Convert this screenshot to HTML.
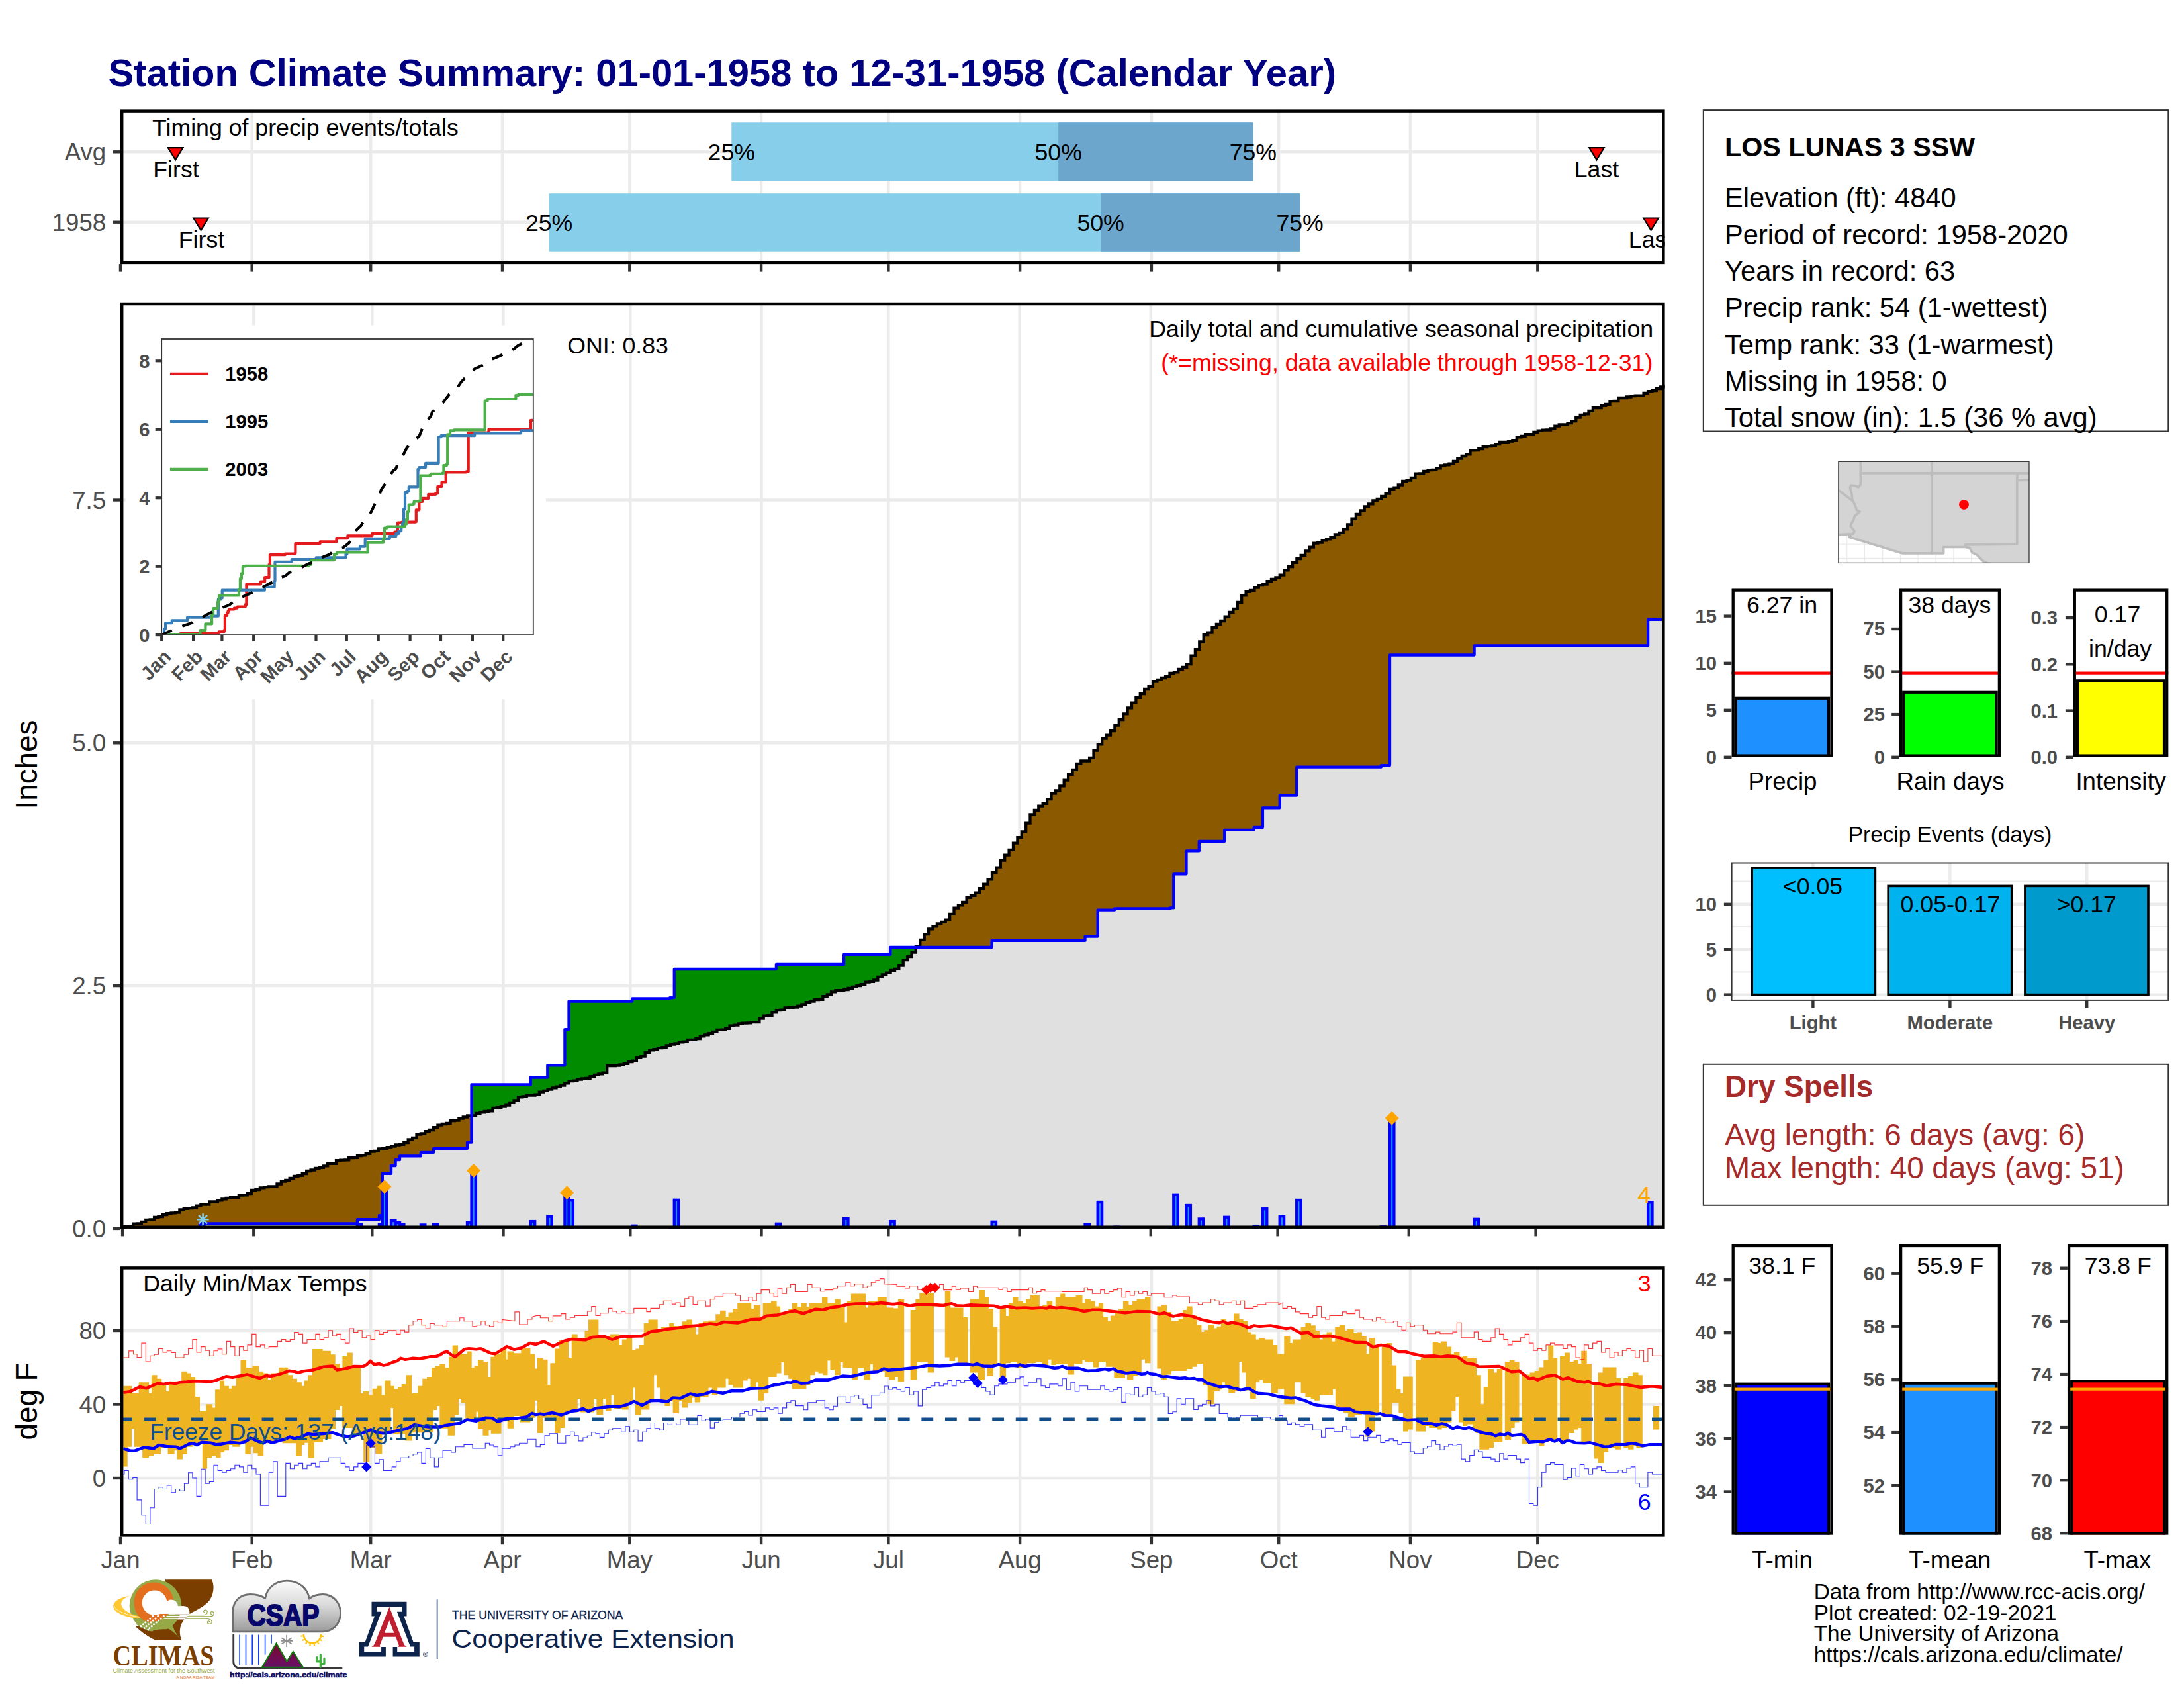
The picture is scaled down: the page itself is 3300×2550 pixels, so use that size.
<!DOCTYPE html>
<html lang="en"><head><meta charset="utf-8"><title>Station Climate Summary</title>
<style>html,body{margin:0;padding:0;background:#fff}svg{display:block}text{font-family:"Liberation Sans",Arial,Helvetica,sans-serif}</style></head><body>
<svg width="3300" height="2550" viewBox="0 0 3300 2550">
<rect width="3300" height="2550" fill="#FFFFFF"/>
<text x="163.6" y="130" font-size="57.9" font-weight="bold" fill="#000080">Station Climate Summary: 01-01-1958 to 12-31-1958 (Calendar Year)</text>
<g id="toppanel">
<clipPath id="tc"><rect x="182" y="165.4" width="2333.6" height="233.7"/></clipPath>
<line x1="182" y1="229.3" x2="2515.6" y2="229.3" stroke="#EBEBEB" stroke-width="4.4"/>
<line x1="182" y1="335.7" x2="2515.6" y2="335.7" stroke="#EBEBEB" stroke-width="4.4"/>
<line x1="380.7" y1="165.4" x2="380.7" y2="399.1" stroke="#EBEBEB" stroke-width="4.4"/>
<line x1="560.2" y1="165.4" x2="560.2" y2="399.1" stroke="#EBEBEB" stroke-width="4.4"/>
<line x1="759" y1="165.4" x2="759" y2="399.1" stroke="#EBEBEB" stroke-width="4.4"/>
<line x1="951.3" y1="165.4" x2="951.3" y2="399.1" stroke="#EBEBEB" stroke-width="4.4"/>
<line x1="1150.1" y1="165.4" x2="1150.1" y2="399.1" stroke="#EBEBEB" stroke-width="4.4"/>
<line x1="1342.4" y1="165.4" x2="1342.4" y2="399.1" stroke="#EBEBEB" stroke-width="4.4"/>
<line x1="1541.1" y1="165.4" x2="1541.1" y2="399.1" stroke="#EBEBEB" stroke-width="4.4"/>
<line x1="1739.9" y1="165.4" x2="1739.9" y2="399.1" stroke="#EBEBEB" stroke-width="4.4"/>
<line x1="1932.2" y1="165.4" x2="1932.2" y2="399.1" stroke="#EBEBEB" stroke-width="4.4"/>
<line x1="2130.9" y1="165.4" x2="2130.9" y2="399.1" stroke="#EBEBEB" stroke-width="4.4"/>
<line x1="2323.3" y1="165.4" x2="2323.3" y2="399.1" stroke="#EBEBEB" stroke-width="4.4"/>
<rect x="1105.3" y="185.3" width="788.1" height="88" fill="#87CEEB"/>
<rect x="1599.2" y="185.3" width="294.2" height="88" fill="#6CA6CD"/>
<rect x="829.6" y="292.2" width="1134.5" height="87.5" fill="#87CEEB"/>
<rect x="1663.1" y="292.2" width="301" height="87.5" fill="#6CA6CD"/>
<g clip-path="url(#tc)">
<text x="1105.3" y="242.2" font-size="35.7" text-anchor="middle">25%</text>
<text x="1599.2" y="242.2" font-size="35.7" text-anchor="middle">50%</text>
<text x="1893.4" y="242.2" font-size="35.7" text-anchor="middle">75%</text>
<text x="829.6" y="348.6" font-size="35.7" text-anchor="middle">25%</text>
<text x="1663.1" y="348.6" font-size="35.7" text-anchor="middle">50%</text>
<text x="1964.1" y="348.6" font-size="35.7" text-anchor="middle">75%</text>
<polygon points="253.9,223.1 276.3,223.1 265.1,241.4" fill="#FF0000" stroke="#000" stroke-width="2.2" stroke-linejoin="miter"/>
<text x="266" y="267.7" font-size="35.7" text-anchor="middle">First</text>
<polygon points="2401.3,223.1 2423.7,223.1 2412.5,241.4" fill="#FF0000" stroke="#000" stroke-width="2.2" stroke-linejoin="miter"/>
<text x="2412.5" y="267.7" font-size="35.7" text-anchor="middle">Last</text>
<polygon points="292.4,329.5 314.8,329.5 303.6,347.8" fill="#FF0000" stroke="#000" stroke-width="2.2" stroke-linejoin="miter"/>
<text x="304.5" y="374.1" font-size="35.7" text-anchor="middle">First</text>
<polygon points="2483.4,329.5 2505.8,329.5 2494.6,347.8" fill="#FF0000" stroke="#000" stroke-width="2.2" stroke-linejoin="miter"/>
<text x="2494.6" y="374.1" font-size="35.7" text-anchor="middle">Last</text>
<text x="230" y="205.2" font-size="35.7">Timing of precip events/totals</text>
</g>
</g>
<line x1="170.5" y1="229.3" x2="182" y2="229.3" stroke="#333333" stroke-width="4.4"/>
<text x="160.2" y="242.4" font-size="36.67" text-anchor="end" fill="#4D4D4D">Avg</text>
<line x1="170.5" y1="335.7" x2="182" y2="335.7" stroke="#333333" stroke-width="4.4"/>
<text x="160.2" y="348.8" font-size="36.67" text-anchor="end" fill="#4D4D4D">1958</text>
<line x1="182" y1="399.1" x2="182" y2="410.6" stroke="#333333" stroke-width="4.4"/>
<line x1="380.7" y1="399.1" x2="380.7" y2="410.6" stroke="#333333" stroke-width="4.4"/>
<line x1="560.2" y1="399.1" x2="560.2" y2="410.6" stroke="#333333" stroke-width="4.4"/>
<line x1="759" y1="399.1" x2="759" y2="410.6" stroke="#333333" stroke-width="4.4"/>
<line x1="951.3" y1="399.1" x2="951.3" y2="410.6" stroke="#333333" stroke-width="4.4"/>
<line x1="1150.1" y1="399.1" x2="1150.1" y2="410.6" stroke="#333333" stroke-width="4.4"/>
<line x1="1342.4" y1="399.1" x2="1342.4" y2="410.6" stroke="#333333" stroke-width="4.4"/>
<line x1="1541.1" y1="399.1" x2="1541.1" y2="410.6" stroke="#333333" stroke-width="4.4"/>
<line x1="1739.9" y1="399.1" x2="1739.9" y2="410.6" stroke="#333333" stroke-width="4.4"/>
<line x1="1932.2" y1="399.1" x2="1932.2" y2="410.6" stroke="#333333" stroke-width="4.4"/>
<line x1="2130.9" y1="399.1" x2="2130.9" y2="410.6" stroke="#333333" stroke-width="4.4"/>
<line x1="2323.3" y1="399.1" x2="2323.3" y2="410.6" stroke="#333333" stroke-width="4.4"/>
<rect x="184.2" y="167.6" width="2329.2" height="229.3" fill="none" stroke="#000" stroke-width="4.45"/>
<g id="mainpanel">
<line x1="182" y1="1489.1" x2="2515.6" y2="1489.1" stroke="#EBEBEB" stroke-width="4.4"/>
<line x1="182" y1="1122.3" x2="2515.6" y2="1122.3" stroke="#EBEBEB" stroke-width="4.4"/>
<line x1="182" y1="755.5" x2="2515.6" y2="755.5" stroke="#EBEBEB" stroke-width="4.4"/>
<line x1="383.3" y1="456.8" x2="383.3" y2="1855.9" stroke="#EBEBEB" stroke-width="4.4"/>
<line x1="562.3" y1="456.8" x2="562.3" y2="1855.9" stroke="#EBEBEB" stroke-width="4.4"/>
<line x1="760.5" y1="456.8" x2="760.5" y2="1855.9" stroke="#EBEBEB" stroke-width="4.4"/>
<line x1="952.3" y1="456.8" x2="952.3" y2="1855.9" stroke="#EBEBEB" stroke-width="4.4"/>
<line x1="1150.5" y1="456.8" x2="1150.5" y2="1855.9" stroke="#EBEBEB" stroke-width="4.4"/>
<line x1="1342.4" y1="456.8" x2="1342.4" y2="1855.9" stroke="#EBEBEB" stroke-width="4.4"/>
<line x1="1540.6" y1="456.8" x2="1540.6" y2="1855.9" stroke="#EBEBEB" stroke-width="4.4"/>
<line x1="1738.8" y1="456.8" x2="1738.8" y2="1855.9" stroke="#EBEBEB" stroke-width="4.4"/>
<line x1="1930.6" y1="456.8" x2="1930.6" y2="1855.9" stroke="#EBEBEB" stroke-width="4.4"/>
<line x1="2128.8" y1="456.8" x2="2128.8" y2="1855.9" stroke="#EBEBEB" stroke-width="4.4"/>
<line x1="2320.6" y1="456.8" x2="2320.6" y2="1855.9" stroke="#EBEBEB" stroke-width="4.4"/>
<clipPath id="mpc"><rect x="182" y="456.8" width="2333.6" height="1399.1"/></clipPath>
<g clip-path="url(#mpc)">
<clipPath id="ub"><polygon points="181.9,1855.3 188.3,1855.3 188.3,1852.9 194.7,1852.9 194.7,1852.5 201.1,1852.5 201.1,1848.7 207.5,1848.7 207.5,1848.3 213.9,1848.3 213.9,1845.8 220.3,1845.8 220.3,1842.8 226.7,1842.8 226.7,1842.3 233.1,1842.3 233.1,1838.9 239.4,1838.9 239.4,1838.2 245.8,1838.2 245.8,1835.1 252.2,1835.1 252.2,1833.2 258.6,1833.2 258.6,1832.3 265,1832.3 265,1831.7 271.4,1831.7 271.4,1827.5 277.8,1827.5 277.8,1825.8 284.2,1825.8 284.2,1825.2 290.6,1825.2 290.6,1824.3 297,1824.3 297,1821.6 303.4,1821.6 303.4,1819.6 309.8,1819.6 309.8,1819.6 316.2,1819.6 316.2,1815.5 322.6,1815.5 322.6,1815.5 329,1815.5 329,1813.3 335.4,1813.3 335.4,1811.4 341.7,1811.4 341.7,1809.8 348.1,1809.8 348.1,1808.9 354.5,1808.9 354.5,1808.9 360.9,1808.9 360.9,1805.5 367.3,1805.5 367.3,1805.3 373.7,1805.3 373.7,1803.2 380.1,1803.2 380.1,1797.9 386.5,1797.9 386.5,1797.1 392.9,1797.1 392.9,1794.3 399.3,1794.3 399.3,1793.2 405.7,1793.2 405.7,1792.4 412.1,1792.4 412.1,1792.4 418.5,1792.4 418.5,1788.5 424.9,1788.5 424.9,1784.5 431.3,1784.5 431.3,1782.8 437.7,1782.8 437.7,1779.8 444,1779.8 444,1776.8 450.4,1776.8 450.4,1775.8 456.8,1775.8 456.8,1773 463.2,1773 463.2,1769 469.6,1769 469.6,1767.5 476,1767.5 476,1764.9 482.4,1764.9 482.4,1763.9 488.8,1763.9 488.8,1761.3 495.2,1761.3 495.2,1757.8 501.6,1757.8 501.6,1757.8 508,1757.8 508,1753.1 514.4,1753.1 514.4,1752.7 520.8,1752.7 520.8,1752.4 527.2,1752.4 527.2,1749.1 533.6,1749.1 533.6,1748.8 540,1748.8 540,1746 546.3,1746 546.3,1745.3 552.7,1745.3 552.7,1742.8 559.1,1742.8 559.1,1739.5 565.5,1739.5 565.5,1738.9 571.9,1738.9 571.9,1735.5 578.3,1735.5 578.3,1735.1 584.7,1735.1 584.7,1733.2 591.1,1733.2 591.1,1731.5 597.5,1731.5 597.5,1729.5 603.9,1729.5 603.9,1728.9 610.3,1728.9 610.3,1726.1 616.7,1726.1 616.7,1721.4 623.1,1721.4 623.1,1718.8 629.5,1718.8 629.5,1713.7 635.9,1713.7 635.9,1712.5 642.2,1712.5 642.2,1709.1 648.6,1709.1 648.6,1707 655,1707 655,1703.2 661.4,1703.2 661.4,1699.6 667.8,1699.6 667.8,1698 674.2,1698 674.2,1697 680.6,1697 680.6,1693 687,1693 687,1692.5 693.4,1692.5 693.4,1689.6 699.8,1689.6 699.8,1687.5 706.2,1687.5 706.2,1685.4 712.6,1685.4 712.6,1685.4 719,1685.4 719,1681.8 725.4,1681.8 725.4,1680.3 731.8,1680.3 731.8,1678.8 738.2,1678.8 738.2,1678.4 744.5,1678.4 744.5,1673.9 750.9,1673.9 750.9,1673.2 757.3,1673.2 757.3,1671.6 763.7,1671.6 763.7,1669.7 770.1,1669.7 770.1,1665.9 776.5,1665.9 776.5,1662.5 782.9,1662.5 782.9,1657.3 789.3,1657.3 789.3,1656.3 795.7,1656.3 795.7,1654.6 802.1,1654.6 802.1,1654.6 808.5,1654.6 808.5,1653.6 814.9,1653.6 814.9,1649.6 821.3,1649.6 821.3,1647.8 827.7,1647.8 827.7,1645.6 834.1,1645.6 834.1,1643.3 840.5,1643.3 840.5,1641.7 846.8,1641.7 846.8,1639.7 853.2,1639.7 853.2,1636.3 859.6,1636.3 859.6,1633.2 866,1633.2 866,1632.7 872.4,1632.7 872.4,1630.7 878.8,1630.7 878.8,1629.5 885.2,1629.5 885.2,1628.9 891.6,1628.9 891.6,1626.2 898,1626.2 898,1623.8 904.4,1623.8 904.4,1622.3 910.8,1622.3 910.8,1620.6 917.2,1620.6 917.2,1610 923.6,1610 923.6,1610 930,1610 930,1609.6 936.4,1609.6 936.4,1608.5 942.8,1608.5 942.8,1606.9 949.1,1606.9 949.1,1604.2 955.5,1604.2 955.5,1602.6 961.9,1602.6 961.9,1597.8 968.3,1597.8 968.3,1595.6 974.7,1595.6 974.7,1589.8 981.1,1589.8 981.1,1586.3 987.5,1586.3 987.5,1585.1 993.9,1585.1 993.9,1583.2 1000.3,1583.2 1000.3,1582.1 1006.7,1582.1 1006.7,1579.4 1013.1,1579.4 1013.1,1577.5 1019.5,1577.5 1019.5,1576.3 1025.9,1576.3 1025.9,1574.4 1032.3,1574.4 1032.3,1573.6 1038.7,1573.6 1038.7,1570.8 1045.1,1570.8 1045.1,1570.8 1051.4,1570.8 1051.4,1569.2 1057.8,1569.2 1057.8,1565.3 1064.2,1565.3 1064.2,1563.3 1070.6,1563.3 1070.6,1561.2 1077,1561.2 1077,1558.9 1083.4,1558.9 1083.4,1555.8 1089.8,1555.8 1089.8,1555.7 1096.2,1555.7 1096.2,1553.8 1102.6,1553.8 1102.6,1549.7 1109,1549.7 1109,1548.7 1115.4,1548.7 1115.4,1546.5 1121.8,1546.5 1121.8,1545.6 1128.2,1545.6 1128.2,1545.4 1134.6,1545.4 1134.6,1544.1 1141,1544.1 1141,1544.1 1147.4,1544.1 1147.4,1538.6 1153.7,1538.6 1153.7,1534.7 1160.1,1534.7 1160.1,1534.2 1166.5,1534.2 1166.5,1529.3 1172.9,1529.3 1172.9,1526.2 1179.3,1526.2 1179.3,1525.7 1185.7,1525.7 1185.7,1522.3 1192.1,1522.3 1192.1,1522.1 1198.5,1522.1 1198.5,1521.7 1204.9,1521.7 1204.9,1519.6 1211.3,1519.6 1211.3,1517.3 1217.7,1517.3 1217.7,1514.1 1224.1,1514.1 1224.1,1512.6 1230.5,1512.6 1230.5,1510.2 1236.9,1510.2 1236.9,1509.8 1243.3,1509.8 1243.3,1505.2 1249.7,1505.2 1249.7,1502.3 1256,1502.3 1256,1498.3 1262.4,1498.3 1262.4,1496.2 1268.8,1496.2 1268.8,1496.2 1275.2,1496.2 1275.2,1495.1 1281.6,1495.1 1281.6,1492.9 1288,1492.9 1288,1490.9 1294.4,1490.9 1294.4,1489.2 1300.8,1489.2 1300.8,1487.1 1307.2,1487.1 1307.2,1483.7 1313.6,1483.7 1313.6,1482.8 1320,1482.8 1320,1480.5 1326.4,1480.5 1326.4,1475.9 1332.8,1475.9 1332.8,1472.4 1339.2,1472.4 1339.2,1469.6 1345.6,1469.6 1345.6,1466 1352,1466 1352,1463.8 1358.3,1463.8 1358.3,1458.5 1364.7,1458.5 1364.7,1450.2 1371.1,1450.2 1371.1,1445.1 1377.5,1445.1 1377.5,1438.6 1383.9,1438.6 1383.9,1430.2 1390.3,1430.2 1390.3,1419.9 1396.7,1419.9 1396.7,1411.1 1403.1,1411.1 1403.1,1403.4 1409.5,1403.4 1409.5,1399.4 1415.9,1399.4 1415.9,1395.4 1422.3,1395.4 1422.3,1392.8 1428.7,1392.8 1428.7,1389.6 1435.1,1389.6 1435.1,1380.9 1441.5,1380.9 1441.5,1371.6 1447.9,1371.6 1447.9,1367.3 1454.2,1367.3 1454.2,1362.9 1460.6,1362.9 1460.6,1355.8 1467,1355.8 1467,1352.8 1473.4,1352.8 1473.4,1348.7 1479.8,1348.7 1479.8,1342.1 1486.2,1342.1 1486.2,1335.6 1492.6,1335.6 1492.6,1328.3 1499,1328.3 1499,1318.1 1505.4,1318.1 1505.4,1310.6 1511.8,1310.6 1511.8,1299.7 1518.2,1299.7 1518.2,1291.7 1524.6,1291.7 1524.6,1283.8 1531,1283.8 1531,1273.6 1537.4,1273.6 1537.4,1265.2 1543.8,1265.2 1543.8,1256.4 1550.2,1256.4 1550.2,1243.7 1556.5,1243.7 1556.5,1230.4 1562.9,1230.4 1562.9,1223.9 1569.3,1223.9 1569.3,1217.7 1575.7,1217.7 1575.7,1213.8 1582.1,1213.8 1582.1,1207.1 1588.5,1207.1 1588.5,1198.7 1594.9,1198.7 1594.9,1194.5 1601.3,1194.5 1601.3,1187.3 1607.7,1187.3 1607.7,1178.6 1614.1,1178.6 1614.1,1169.9 1620.5,1169.9 1620.5,1162.8 1626.9,1162.8 1626.9,1153.8 1633.3,1153.8 1633.3,1149.5 1639.7,1149.5 1639.7,1149.5 1646.1,1149.5 1646.1,1144.8 1652.5,1144.8 1652.5,1133.7 1658.8,1133.7 1658.8,1124.3 1665.2,1124.3 1665.2,1115.5 1671.6,1115.5 1671.6,1110.6 1678,1110.6 1678,1104 1684.4,1104 1684.4,1095.7 1690.8,1095.7 1690.8,1087.2 1697.2,1087.2 1697.2,1078.4 1703.6,1078.4 1703.6,1069.4 1710,1069.4 1710,1061.7 1716.4,1061.7 1716.4,1053.9 1722.8,1053.9 1722.8,1048.2 1729.2,1048.2 1729.2,1041 1735.6,1041 1735.6,1037.2 1742,1037.2 1742,1029.6 1748.4,1029.6 1748.4,1026.8 1754.8,1026.8 1754.8,1024 1761.1,1024 1761.1,1021.8 1767.5,1021.8 1767.5,1017 1773.9,1017 1773.9,1015.4 1780.3,1015.4 1780.3,1010.9 1786.7,1010.9 1786.7,1007.8 1793.1,1007.8 1793.1,1003.2 1799.5,1003.2 1799.5,990.7 1805.9,990.7 1805.9,981.2 1812.3,981.2 1812.3,969.5 1818.7,969.5 1818.7,959 1825.1,959 1825.1,955.7 1831.5,955.7 1831.5,947.9 1837.9,947.9 1837.9,943 1844.3,943 1844.3,938 1850.7,938 1850.7,931.6 1857.1,931.6 1857.1,925 1863.4,925 1863.4,919.8 1869.8,919.8 1869.8,909.8 1876.2,909.8 1876.2,899.4 1882.6,899.4 1882.6,893.8 1889,893.8 1889,891.9 1895.4,891.9 1895.4,887.5 1901.8,887.5 1901.8,884.2 1908.2,884.2 1908.2,882.5 1914.6,882.5 1914.6,878.2 1921,878.2 1921,875 1927.4,875 1927.4,872.3 1933.8,872.3 1933.8,868.7 1940.2,868.7 1940.2,861.4 1946.6,861.4 1946.6,856.1 1953,856.1 1953,849.9 1959.4,849.9 1959.4,844.1 1965.7,844.1 1965.7,838.9 1972.1,838.9 1972.1,832.3 1978.5,832.3 1978.5,826.7 1984.9,826.7 1984.9,820.7 1991.3,820.7 1991.3,819.6 1997.7,819.6 1997.7,816.3 2004.1,816.3 2004.1,814.3 2010.5,814.3 2010.5,812 2016.9,812 2016.9,807.3 2023.3,807.3 2023.3,804.9 2029.7,804.9 2029.7,799.4 2036.1,799.4 2036.1,792.5 2042.5,792.5 2042.5,783.6 2048.9,783.6 2048.9,776.9 2055.3,776.9 2055.3,771.3 2061.7,771.3 2061.7,765.4 2068,765.4 2068,761.4 2074.4,761.4 2074.4,756.4 2080.8,756.4 2080.8,753.9 2087.2,753.9 2087.2,749.8 2093.6,749.8 2093.6,745.6 2100,745.6 2100,738.8 2106.4,738.8 2106.4,736.6 2112.8,736.6 2112.8,732.5 2119.2,732.5 2119.2,727 2125.6,727 2125.6,725.5 2132,725.5 2132,721.9 2138.4,721.9 2138.4,715.6 2144.8,715.6 2144.8,715.5 2151.2,715.5 2151.2,711.8 2157.6,711.8 2157.6,710.2 2164,710.2 2164,709.8 2170.3,709.8 2170.3,707.4 2176.7,707.4 2176.7,703.3 2183.1,703.3 2183.1,702.3 2189.5,702.3 2189.5,700.6 2195.9,700.6 2195.9,696.9 2202.3,696.9 2202.3,692.5 2208.7,692.5 2208.7,689 2215.1,689 2215.1,686.3 2221.5,686.3 2221.5,680.3 2227.9,680.3 2227.9,680.2 2234.3,680.2 2234.3,678.1 2240.7,678.1 2240.7,675 2247.1,675 2247.1,674.2 2253.5,674.2 2253.5,673.3 2259.9,673.3 2259.9,671.2 2266.2,671.2 2266.2,668 2272.6,668 2272.6,668 2279,668 2279,666.5 2285.4,666.5 2285.4,665.1 2291.8,665.1 2291.8,660.3 2298.2,660.3 2298.2,658.9 2304.6,658.9 2304.6,656.2 2311,656.2 2311,656.2 2317.4,656.2 2317.4,653 2323.8,653 2323.8,650.7 2330.2,650.7 2330.2,649.7 2336.6,649.7 2336.6,649.5 2343,649.5 2343,647.3 2349.4,647.3 2349.4,643.7 2355.8,643.7 2355.8,641.5 2362.2,641.5 2362.2,641.5 2368.5,641.5 2368.5,639.2 2374.9,639.2 2374.9,636.1 2381.3,636.1 2381.3,630.6 2387.7,630.6 2387.7,626.9 2394.1,626.9 2394.1,625.4 2400.5,625.4 2400.5,620.9 2406.9,620.9 2406.9,616.2 2413.3,616.2 2413.3,616.2 2419.7,616.2 2419.7,612.8 2426.1,612.8 2426.1,610.9 2432.5,610.9 2432.5,606.1 2438.9,606.1 2438.9,606 2445.3,606 2445.3,601 2451.7,601 2451.7,601 2458.1,601 2458.1,599.5 2464.5,599.5 2464.5,598.1 2470.8,598.1 2470.8,597.7 2477.2,597.7 2477.2,597.7 2483.6,597.7 2483.6,593.8 2490,593.8 2490,591.2 2496.4,591.2 2496.4,590.2 2502.8,590.2 2502.8,587.1 2509.2,587.1 2509.2,584.5 2515.6,584.5 2515.6,583.3 2513,583.3 2513,1855.9 182,1855.9"/></clipPath>
<polygon points="182,1855.9 302,1855.9 302,1848.5 539.9,1848.5 539.9,1842.2 572.9,1842.2 572.9,1836.1 577.8,1836.1 577.8,1772.9 591,1772.9 591,1761 597.6,1761 597.6,1752.2 604,1752.2 604,1746.4 635.9,1746.4 635.9,1740.9 655.1,1740.9 655.1,1735 706,1735 706,1725.7 712.5,1725.7 712.5,1638.3 801.8,1638.3 801.8,1627.5 827.3,1627.5 827.3,1609.3 853.4,1609.3 853.4,1555.2 859.5,1555.2 859.5,1512.6 955.1,1512.6 955.1,1508.5 1012.2,1508.5 1012.2,1507.1 1018.8,1507.1 1018.8,1464 1172.9,1464 1172.9,1456.9 1275.1,1456.9 1275.1,1441.8 1345.3,1441.8 1345.3,1431 1498.6,1431 1498.6,1420.9 1639.5,1420.9 1639.5,1414.6 1658.7,1414.6 1658.7,1374.7 1684,1374.7 1684,1372.5 1767.8,1372.5 1767.8,1371.4 1773.3,1371.4 1773.3,1320.3 1792.5,1320.3 1792.5,1285.4 1811.8,1285.4 1811.8,1270.9 1850.2,1270.9 1850.2,1253.8 1894.7,1253.8 1894.7,1250 1907.9,1250 1907.9,1220.3 1933.7,1220.3 1933.7,1201.6 1959.2,1201.6 1959.2,1158.7 2086.8,1158.7 2086.8,1156.1 2100,1156.1 2100,989.5 2227.6,989.5 2227.6,975.4 2490.1,975.4 2490.1,935.8 2511,935.8 2513.5,935.8 2513.5,1855.9 182,1855.9" fill="#008B00"/>
<polygon points="181.9,1855.3 188.3,1855.3 188.3,1852.9 194.7,1852.9 194.7,1852.5 201.1,1852.5 201.1,1848.7 207.5,1848.7 207.5,1848.3 213.9,1848.3 213.9,1845.8 220.3,1845.8 220.3,1842.8 226.7,1842.8 226.7,1842.3 233.1,1842.3 233.1,1838.9 239.4,1838.9 239.4,1838.2 245.8,1838.2 245.8,1835.1 252.2,1835.1 252.2,1833.2 258.6,1833.2 258.6,1832.3 265,1832.3 265,1831.7 271.4,1831.7 271.4,1827.5 277.8,1827.5 277.8,1825.8 284.2,1825.8 284.2,1825.2 290.6,1825.2 290.6,1824.3 297,1824.3 297,1821.6 303.4,1821.6 303.4,1819.6 309.8,1819.6 309.8,1819.6 316.2,1819.6 316.2,1815.5 322.6,1815.5 322.6,1815.5 329,1815.5 329,1813.3 335.4,1813.3 335.4,1811.4 341.7,1811.4 341.7,1809.8 348.1,1809.8 348.1,1808.9 354.5,1808.9 354.5,1808.9 360.9,1808.9 360.9,1805.5 367.3,1805.5 367.3,1805.3 373.7,1805.3 373.7,1803.2 380.1,1803.2 380.1,1797.9 386.5,1797.9 386.5,1797.1 392.9,1797.1 392.9,1794.3 399.3,1794.3 399.3,1793.2 405.7,1793.2 405.7,1792.4 412.1,1792.4 412.1,1792.4 418.5,1792.4 418.5,1788.5 424.9,1788.5 424.9,1784.5 431.3,1784.5 431.3,1782.8 437.7,1782.8 437.7,1779.8 444,1779.8 444,1776.8 450.4,1776.8 450.4,1775.8 456.8,1775.8 456.8,1773 463.2,1773 463.2,1769 469.6,1769 469.6,1767.5 476,1767.5 476,1764.9 482.4,1764.9 482.4,1763.9 488.8,1763.9 488.8,1761.3 495.2,1761.3 495.2,1757.8 501.6,1757.8 501.6,1757.8 508,1757.8 508,1753.1 514.4,1753.1 514.4,1752.7 520.8,1752.7 520.8,1752.4 527.2,1752.4 527.2,1749.1 533.6,1749.1 533.6,1748.8 540,1748.8 540,1746 546.3,1746 546.3,1745.3 552.7,1745.3 552.7,1742.8 559.1,1742.8 559.1,1739.5 565.5,1739.5 565.5,1738.9 571.9,1738.9 571.9,1735.5 578.3,1735.5 578.3,1735.1 584.7,1735.1 584.7,1733.2 591.1,1733.2 591.1,1731.5 597.5,1731.5 597.5,1729.5 603.9,1729.5 603.9,1728.9 610.3,1728.9 610.3,1726.1 616.7,1726.1 616.7,1721.4 623.1,1721.4 623.1,1718.8 629.5,1718.8 629.5,1713.7 635.9,1713.7 635.9,1712.5 642.2,1712.5 642.2,1709.1 648.6,1709.1 648.6,1707 655,1707 655,1703.2 661.4,1703.2 661.4,1699.6 667.8,1699.6 667.8,1698 674.2,1698 674.2,1697 680.6,1697 680.6,1693 687,1693 687,1692.5 693.4,1692.5 693.4,1689.6 699.8,1689.6 699.8,1687.5 706.2,1687.5 706.2,1685.4 712.6,1685.4 712.6,1685.4 719,1685.4 719,1681.8 725.4,1681.8 725.4,1680.3 731.8,1680.3 731.8,1678.8 738.2,1678.8 738.2,1678.4 744.5,1678.4 744.5,1673.9 750.9,1673.9 750.9,1673.2 757.3,1673.2 757.3,1671.6 763.7,1671.6 763.7,1669.7 770.1,1669.7 770.1,1665.9 776.5,1665.9 776.5,1662.5 782.9,1662.5 782.9,1657.3 789.3,1657.3 789.3,1656.3 795.7,1656.3 795.7,1654.6 802.1,1654.6 802.1,1654.6 808.5,1654.6 808.5,1653.6 814.9,1653.6 814.9,1649.6 821.3,1649.6 821.3,1647.8 827.7,1647.8 827.7,1645.6 834.1,1645.6 834.1,1643.3 840.5,1643.3 840.5,1641.7 846.8,1641.7 846.8,1639.7 853.2,1639.7 853.2,1636.3 859.6,1636.3 859.6,1633.2 866,1633.2 866,1632.7 872.4,1632.7 872.4,1630.7 878.8,1630.7 878.8,1629.5 885.2,1629.5 885.2,1628.9 891.6,1628.9 891.6,1626.2 898,1626.2 898,1623.8 904.4,1623.8 904.4,1622.3 910.8,1622.3 910.8,1620.6 917.2,1620.6 917.2,1610 923.6,1610 923.6,1610 930,1610 930,1609.6 936.4,1609.6 936.4,1608.5 942.8,1608.5 942.8,1606.9 949.1,1606.9 949.1,1604.2 955.5,1604.2 955.5,1602.6 961.9,1602.6 961.9,1597.8 968.3,1597.8 968.3,1595.6 974.7,1595.6 974.7,1589.8 981.1,1589.8 981.1,1586.3 987.5,1586.3 987.5,1585.1 993.9,1585.1 993.9,1583.2 1000.3,1583.2 1000.3,1582.1 1006.7,1582.1 1006.7,1579.4 1013.1,1579.4 1013.1,1577.5 1019.5,1577.5 1019.5,1576.3 1025.9,1576.3 1025.9,1574.4 1032.3,1574.4 1032.3,1573.6 1038.7,1573.6 1038.7,1570.8 1045.1,1570.8 1045.1,1570.8 1051.4,1570.8 1051.4,1569.2 1057.8,1569.2 1057.8,1565.3 1064.2,1565.3 1064.2,1563.3 1070.6,1563.3 1070.6,1561.2 1077,1561.2 1077,1558.9 1083.4,1558.9 1083.4,1555.8 1089.8,1555.8 1089.8,1555.7 1096.2,1555.7 1096.2,1553.8 1102.6,1553.8 1102.6,1549.7 1109,1549.7 1109,1548.7 1115.4,1548.7 1115.4,1546.5 1121.8,1546.5 1121.8,1545.6 1128.2,1545.6 1128.2,1545.4 1134.6,1545.4 1134.6,1544.1 1141,1544.1 1141,1544.1 1147.4,1544.1 1147.4,1538.6 1153.7,1538.6 1153.7,1534.7 1160.1,1534.7 1160.1,1534.2 1166.5,1534.2 1166.5,1529.3 1172.9,1529.3 1172.9,1526.2 1179.3,1526.2 1179.3,1525.7 1185.7,1525.7 1185.7,1522.3 1192.1,1522.3 1192.1,1522.1 1198.5,1522.1 1198.5,1521.7 1204.9,1521.7 1204.9,1519.6 1211.3,1519.6 1211.3,1517.3 1217.7,1517.3 1217.7,1514.1 1224.1,1514.1 1224.1,1512.6 1230.5,1512.6 1230.5,1510.2 1236.9,1510.2 1236.9,1509.8 1243.3,1509.8 1243.3,1505.2 1249.7,1505.2 1249.7,1502.3 1256,1502.3 1256,1498.3 1262.4,1498.3 1262.4,1496.2 1268.8,1496.2 1268.8,1496.2 1275.2,1496.2 1275.2,1495.1 1281.6,1495.1 1281.6,1492.9 1288,1492.9 1288,1490.9 1294.4,1490.9 1294.4,1489.2 1300.8,1489.2 1300.8,1487.1 1307.2,1487.1 1307.2,1483.7 1313.6,1483.7 1313.6,1482.8 1320,1482.8 1320,1480.5 1326.4,1480.5 1326.4,1475.9 1332.8,1475.9 1332.8,1472.4 1339.2,1472.4 1339.2,1469.6 1345.6,1469.6 1345.6,1466 1352,1466 1352,1463.8 1358.3,1463.8 1358.3,1458.5 1364.7,1458.5 1364.7,1450.2 1371.1,1450.2 1371.1,1445.1 1377.5,1445.1 1377.5,1438.6 1383.9,1438.6 1383.9,1430.2 1390.3,1430.2 1390.3,1419.9 1396.7,1419.9 1396.7,1411.1 1403.1,1411.1 1403.1,1403.4 1409.5,1403.4 1409.5,1399.4 1415.9,1399.4 1415.9,1395.4 1422.3,1395.4 1422.3,1392.8 1428.7,1392.8 1428.7,1389.6 1435.1,1389.6 1435.1,1380.9 1441.5,1380.9 1441.5,1371.6 1447.9,1371.6 1447.9,1367.3 1454.2,1367.3 1454.2,1362.9 1460.6,1362.9 1460.6,1355.8 1467,1355.8 1467,1352.8 1473.4,1352.8 1473.4,1348.7 1479.8,1348.7 1479.8,1342.1 1486.2,1342.1 1486.2,1335.6 1492.6,1335.6 1492.6,1328.3 1499,1328.3 1499,1318.1 1505.4,1318.1 1505.4,1310.6 1511.8,1310.6 1511.8,1299.7 1518.2,1299.7 1518.2,1291.7 1524.6,1291.7 1524.6,1283.8 1531,1283.8 1531,1273.6 1537.4,1273.6 1537.4,1265.2 1543.8,1265.2 1543.8,1256.4 1550.2,1256.4 1550.2,1243.7 1556.5,1243.7 1556.5,1230.4 1562.9,1230.4 1562.9,1223.9 1569.3,1223.9 1569.3,1217.7 1575.7,1217.7 1575.7,1213.8 1582.1,1213.8 1582.1,1207.1 1588.5,1207.1 1588.5,1198.7 1594.9,1198.7 1594.9,1194.5 1601.3,1194.5 1601.3,1187.3 1607.7,1187.3 1607.7,1178.6 1614.1,1178.6 1614.1,1169.9 1620.5,1169.9 1620.5,1162.8 1626.9,1162.8 1626.9,1153.8 1633.3,1153.8 1633.3,1149.5 1639.7,1149.5 1639.7,1149.5 1646.1,1149.5 1646.1,1144.8 1652.5,1144.8 1652.5,1133.7 1658.8,1133.7 1658.8,1124.3 1665.2,1124.3 1665.2,1115.5 1671.6,1115.5 1671.6,1110.6 1678,1110.6 1678,1104 1684.4,1104 1684.4,1095.7 1690.8,1095.7 1690.8,1087.2 1697.2,1087.2 1697.2,1078.4 1703.6,1078.4 1703.6,1069.4 1710,1069.4 1710,1061.7 1716.4,1061.7 1716.4,1053.9 1722.8,1053.9 1722.8,1048.2 1729.2,1048.2 1729.2,1041 1735.6,1041 1735.6,1037.2 1742,1037.2 1742,1029.6 1748.4,1029.6 1748.4,1026.8 1754.8,1026.8 1754.8,1024 1761.1,1024 1761.1,1021.8 1767.5,1021.8 1767.5,1017 1773.9,1017 1773.9,1015.4 1780.3,1015.4 1780.3,1010.9 1786.7,1010.9 1786.7,1007.8 1793.1,1007.8 1793.1,1003.2 1799.5,1003.2 1799.5,990.7 1805.9,990.7 1805.9,981.2 1812.3,981.2 1812.3,969.5 1818.7,969.5 1818.7,959 1825.1,959 1825.1,955.7 1831.5,955.7 1831.5,947.9 1837.9,947.9 1837.9,943 1844.3,943 1844.3,938 1850.7,938 1850.7,931.6 1857.1,931.6 1857.1,925 1863.4,925 1863.4,919.8 1869.8,919.8 1869.8,909.8 1876.2,909.8 1876.2,899.4 1882.6,899.4 1882.6,893.8 1889,893.8 1889,891.9 1895.4,891.9 1895.4,887.5 1901.8,887.5 1901.8,884.2 1908.2,884.2 1908.2,882.5 1914.6,882.5 1914.6,878.2 1921,878.2 1921,875 1927.4,875 1927.4,872.3 1933.8,872.3 1933.8,868.7 1940.2,868.7 1940.2,861.4 1946.6,861.4 1946.6,856.1 1953,856.1 1953,849.9 1959.4,849.9 1959.4,844.1 1965.7,844.1 1965.7,838.9 1972.1,838.9 1972.1,832.3 1978.5,832.3 1978.5,826.7 1984.9,826.7 1984.9,820.7 1991.3,820.7 1991.3,819.6 1997.7,819.6 1997.7,816.3 2004.1,816.3 2004.1,814.3 2010.5,814.3 2010.5,812 2016.9,812 2016.9,807.3 2023.3,807.3 2023.3,804.9 2029.7,804.9 2029.7,799.4 2036.1,799.4 2036.1,792.5 2042.5,792.5 2042.5,783.6 2048.9,783.6 2048.9,776.9 2055.3,776.9 2055.3,771.3 2061.7,771.3 2061.7,765.4 2068,765.4 2068,761.4 2074.4,761.4 2074.4,756.4 2080.8,756.4 2080.8,753.9 2087.2,753.9 2087.2,749.8 2093.6,749.8 2093.6,745.6 2100,745.6 2100,738.8 2106.4,738.8 2106.4,736.6 2112.8,736.6 2112.8,732.5 2119.2,732.5 2119.2,727 2125.6,727 2125.6,725.5 2132,725.5 2132,721.9 2138.4,721.9 2138.4,715.6 2144.8,715.6 2144.8,715.5 2151.2,715.5 2151.2,711.8 2157.6,711.8 2157.6,710.2 2164,710.2 2164,709.8 2170.3,709.8 2170.3,707.4 2176.7,707.4 2176.7,703.3 2183.1,703.3 2183.1,702.3 2189.5,702.3 2189.5,700.6 2195.9,700.6 2195.9,696.9 2202.3,696.9 2202.3,692.5 2208.7,692.5 2208.7,689 2215.1,689 2215.1,686.3 2221.5,686.3 2221.5,680.3 2227.9,680.3 2227.9,680.2 2234.3,680.2 2234.3,678.1 2240.7,678.1 2240.7,675 2247.1,675 2247.1,674.2 2253.5,674.2 2253.5,673.3 2259.9,673.3 2259.9,671.2 2266.2,671.2 2266.2,668 2272.6,668 2272.6,668 2279,668 2279,666.5 2285.4,666.5 2285.4,665.1 2291.8,665.1 2291.8,660.3 2298.2,660.3 2298.2,658.9 2304.6,658.9 2304.6,656.2 2311,656.2 2311,656.2 2317.4,656.2 2317.4,653 2323.8,653 2323.8,650.7 2330.2,650.7 2330.2,649.7 2336.6,649.7 2336.6,649.5 2343,649.5 2343,647.3 2349.4,647.3 2349.4,643.7 2355.8,643.7 2355.8,641.5 2362.2,641.5 2362.2,641.5 2368.5,641.5 2368.5,639.2 2374.9,639.2 2374.9,636.1 2381.3,636.1 2381.3,630.6 2387.7,630.6 2387.7,626.9 2394.1,626.9 2394.1,625.4 2400.5,625.4 2400.5,620.9 2406.9,620.9 2406.9,616.2 2413.3,616.2 2413.3,616.2 2419.7,616.2 2419.7,612.8 2426.1,612.8 2426.1,610.9 2432.5,610.9 2432.5,606.1 2438.9,606.1 2438.9,606 2445.3,606 2445.3,601 2451.7,601 2451.7,601 2458.1,601 2458.1,599.5 2464.5,599.5 2464.5,598.1 2470.8,598.1 2470.8,597.7 2477.2,597.7 2477.2,597.7 2483.6,597.7 2483.6,593.8 2490,593.8 2490,591.2 2496.4,591.2 2496.4,590.2 2502.8,590.2 2502.8,587.1 2509.2,587.1 2509.2,584.5 2515.6,584.5 2515.6,583.3 2513,583.3 2513,1855.9 182,1855.9" fill="#8B5A00"/>
<polygon points="182,1855.9 302,1855.9 302,1848.5 539.9,1848.5 539.9,1842.2 572.9,1842.2 572.9,1836.1 577.8,1836.1 577.8,1772.9 591,1772.9 591,1761 597.6,1761 597.6,1752.2 604,1752.2 604,1746.4 635.9,1746.4 635.9,1740.9 655.1,1740.9 655.1,1735 706,1735 706,1725.7 712.5,1725.7 712.5,1638.3 801.8,1638.3 801.8,1627.5 827.3,1627.5 827.3,1609.3 853.4,1609.3 853.4,1555.2 859.5,1555.2 859.5,1512.6 955.1,1512.6 955.1,1508.5 1012.2,1508.5 1012.2,1507.1 1018.8,1507.1 1018.8,1464 1172.9,1464 1172.9,1456.9 1275.1,1456.9 1275.1,1441.8 1345.3,1441.8 1345.3,1431 1498.6,1431 1498.6,1420.9 1639.5,1420.9 1639.5,1414.6 1658.7,1414.6 1658.7,1374.7 1684,1374.7 1684,1372.5 1767.8,1372.5 1767.8,1371.4 1773.3,1371.4 1773.3,1320.3 1792.5,1320.3 1792.5,1285.4 1811.8,1285.4 1811.8,1270.9 1850.2,1270.9 1850.2,1253.8 1894.7,1253.8 1894.7,1250 1907.9,1250 1907.9,1220.3 1933.7,1220.3 1933.7,1201.6 1959.2,1201.6 1959.2,1158.7 2086.8,1158.7 2086.8,1156.1 2100,1156.1 2100,989.5 2227.6,989.5 2227.6,975.4 2490.1,975.4 2490.1,935.8 2511,935.8 2513.5,935.8 2513.5,1855.9 182,1855.9" fill="#E0E0E0" clip-path="url(#ub)"/>
<polyline points="181.9,1855.3 188.3,1855.3 188.3,1852.9 194.7,1852.9 194.7,1852.5 201.1,1852.5 201.1,1848.7 207.5,1848.7 207.5,1848.3 213.9,1848.3 213.9,1845.8 220.3,1845.8 220.3,1842.8 226.7,1842.8 226.7,1842.3 233.1,1842.3 233.1,1838.9 239.4,1838.9 239.4,1838.2 245.8,1838.2 245.8,1835.1 252.2,1835.1 252.2,1833.2 258.6,1833.2 258.6,1832.3 265,1832.3 265,1831.7 271.4,1831.7 271.4,1827.5 277.8,1827.5 277.8,1825.8 284.2,1825.8 284.2,1825.2 290.6,1825.2 290.6,1824.3 297,1824.3 297,1821.6 303.4,1821.6 303.4,1819.6 309.8,1819.6 309.8,1819.6 316.2,1819.6 316.2,1815.5 322.6,1815.5 322.6,1815.5 329,1815.5 329,1813.3 335.4,1813.3 335.4,1811.4 341.7,1811.4 341.7,1809.8 348.1,1809.8 348.1,1808.9 354.5,1808.9 354.5,1808.9 360.9,1808.9 360.9,1805.5 367.3,1805.5 367.3,1805.3 373.7,1805.3 373.7,1803.2 380.1,1803.2 380.1,1797.9 386.5,1797.9 386.5,1797.1 392.9,1797.1 392.9,1794.3 399.3,1794.3 399.3,1793.2 405.7,1793.2 405.7,1792.4 412.1,1792.4 412.1,1792.4 418.5,1792.4 418.5,1788.5 424.9,1788.5 424.9,1784.5 431.3,1784.5 431.3,1782.8 437.7,1782.8 437.7,1779.8 444,1779.8 444,1776.8 450.4,1776.8 450.4,1775.8 456.8,1775.8 456.8,1773 463.2,1773 463.2,1769 469.6,1769 469.6,1767.5 476,1767.5 476,1764.9 482.4,1764.9 482.4,1763.9 488.8,1763.9 488.8,1761.3 495.2,1761.3 495.2,1757.8 501.6,1757.8 501.6,1757.8 508,1757.8 508,1753.1 514.4,1753.1 514.4,1752.7 520.8,1752.7 520.8,1752.4 527.2,1752.4 527.2,1749.1 533.6,1749.1 533.6,1748.8 540,1748.8 540,1746 546.3,1746 546.3,1745.3 552.7,1745.3 552.7,1742.8 559.1,1742.8 559.1,1739.5 565.5,1739.5 565.5,1738.9 571.9,1738.9 571.9,1735.5 578.3,1735.5 578.3,1735.1 584.7,1735.1 584.7,1733.2 591.1,1733.2 591.1,1731.5 597.5,1731.5 597.5,1729.5 603.9,1729.5 603.9,1728.9 610.3,1728.9 610.3,1726.1 616.7,1726.1 616.7,1721.4 623.1,1721.4 623.1,1718.8 629.5,1718.8 629.5,1713.7 635.9,1713.7 635.9,1712.5 642.2,1712.5 642.2,1709.1 648.6,1709.1 648.6,1707 655,1707 655,1703.2 661.4,1703.2 661.4,1699.6 667.8,1699.6 667.8,1698 674.2,1698 674.2,1697 680.6,1697 680.6,1693 687,1693 687,1692.5 693.4,1692.5 693.4,1689.6 699.8,1689.6 699.8,1687.5 706.2,1687.5 706.2,1685.4 712.6,1685.4 712.6,1685.4 719,1685.4 719,1681.8 725.4,1681.8 725.4,1680.3 731.8,1680.3 731.8,1678.8 738.2,1678.8 738.2,1678.4 744.5,1678.4 744.5,1673.9 750.9,1673.9 750.9,1673.2 757.3,1673.2 757.3,1671.6 763.7,1671.6 763.7,1669.7 770.1,1669.7 770.1,1665.9 776.5,1665.9 776.5,1662.5 782.9,1662.5 782.9,1657.3 789.3,1657.3 789.3,1656.3 795.7,1656.3 795.7,1654.6 802.1,1654.6 802.1,1654.6 808.5,1654.6 808.5,1653.6 814.9,1653.6 814.9,1649.6 821.3,1649.6 821.3,1647.8 827.7,1647.8 827.7,1645.6 834.1,1645.6 834.1,1643.3 840.5,1643.3 840.5,1641.7 846.8,1641.7 846.8,1639.7 853.2,1639.7 853.2,1636.3 859.6,1636.3 859.6,1633.2 866,1633.2 866,1632.7 872.4,1632.7 872.4,1630.7 878.8,1630.7 878.8,1629.5 885.2,1629.5 885.2,1628.9 891.6,1628.9 891.6,1626.2 898,1626.2 898,1623.8 904.4,1623.8 904.4,1622.3 910.8,1622.3 910.8,1620.6 917.2,1620.6 917.2,1610 923.6,1610 923.6,1610 930,1610 930,1609.6 936.4,1609.6 936.4,1608.5 942.8,1608.5 942.8,1606.9 949.1,1606.9 949.1,1604.2 955.5,1604.2 955.5,1602.6 961.9,1602.6 961.9,1597.8 968.3,1597.8 968.3,1595.6 974.7,1595.6 974.7,1589.8 981.1,1589.8 981.1,1586.3 987.5,1586.3 987.5,1585.1 993.9,1585.1 993.9,1583.2 1000.3,1583.2 1000.3,1582.1 1006.7,1582.1 1006.7,1579.4 1013.1,1579.4 1013.1,1577.5 1019.5,1577.5 1019.5,1576.3 1025.9,1576.3 1025.9,1574.4 1032.3,1574.4 1032.3,1573.6 1038.7,1573.6 1038.7,1570.8 1045.1,1570.8 1045.1,1570.8 1051.4,1570.8 1051.4,1569.2 1057.8,1569.2 1057.8,1565.3 1064.2,1565.3 1064.2,1563.3 1070.6,1563.3 1070.6,1561.2 1077,1561.2 1077,1558.9 1083.4,1558.9 1083.4,1555.8 1089.8,1555.8 1089.8,1555.7 1096.2,1555.7 1096.2,1553.8 1102.6,1553.8 1102.6,1549.7 1109,1549.7 1109,1548.7 1115.4,1548.7 1115.4,1546.5 1121.8,1546.5 1121.8,1545.6 1128.2,1545.6 1128.2,1545.4 1134.6,1545.4 1134.6,1544.1 1141,1544.1 1141,1544.1 1147.4,1544.1 1147.4,1538.6 1153.7,1538.6 1153.7,1534.7 1160.1,1534.7 1160.1,1534.2 1166.5,1534.2 1166.5,1529.3 1172.9,1529.3 1172.9,1526.2 1179.3,1526.2 1179.3,1525.7 1185.7,1525.7 1185.7,1522.3 1192.1,1522.3 1192.1,1522.1 1198.5,1522.1 1198.5,1521.7 1204.9,1521.7 1204.9,1519.6 1211.3,1519.6 1211.3,1517.3 1217.7,1517.3 1217.7,1514.1 1224.1,1514.1 1224.1,1512.6 1230.5,1512.6 1230.5,1510.2 1236.9,1510.2 1236.9,1509.8 1243.3,1509.8 1243.3,1505.2 1249.7,1505.2 1249.7,1502.3 1256,1502.3 1256,1498.3 1262.4,1498.3 1262.4,1496.2 1268.8,1496.2 1268.8,1496.2 1275.2,1496.2 1275.2,1495.1 1281.6,1495.1 1281.6,1492.9 1288,1492.9 1288,1490.9 1294.4,1490.9 1294.4,1489.2 1300.8,1489.2 1300.8,1487.1 1307.2,1487.1 1307.2,1483.7 1313.6,1483.7 1313.6,1482.8 1320,1482.8 1320,1480.5 1326.4,1480.5 1326.4,1475.9 1332.8,1475.9 1332.8,1472.4 1339.2,1472.4 1339.2,1469.6 1345.6,1469.6 1345.6,1466 1352,1466 1352,1463.8 1358.3,1463.8 1358.3,1458.5 1364.7,1458.5 1364.7,1450.2 1371.1,1450.2 1371.1,1445.1 1377.5,1445.1 1377.5,1438.6 1383.9,1438.6 1383.9,1430.2 1390.3,1430.2 1390.3,1419.9 1396.7,1419.9 1396.7,1411.1 1403.1,1411.1 1403.1,1403.4 1409.5,1403.4 1409.5,1399.4 1415.9,1399.4 1415.9,1395.4 1422.3,1395.4 1422.3,1392.8 1428.7,1392.8 1428.7,1389.6 1435.1,1389.6 1435.1,1380.9 1441.5,1380.9 1441.5,1371.6 1447.9,1371.6 1447.9,1367.3 1454.2,1367.3 1454.2,1362.9 1460.6,1362.9 1460.6,1355.8 1467,1355.8 1467,1352.8 1473.4,1352.8 1473.4,1348.7 1479.8,1348.7 1479.8,1342.1 1486.2,1342.1 1486.2,1335.6 1492.6,1335.6 1492.6,1328.3 1499,1328.3 1499,1318.1 1505.4,1318.1 1505.4,1310.6 1511.8,1310.6 1511.8,1299.7 1518.2,1299.7 1518.2,1291.7 1524.6,1291.7 1524.6,1283.8 1531,1283.8 1531,1273.6 1537.4,1273.6 1537.4,1265.2 1543.8,1265.2 1543.8,1256.4 1550.2,1256.4 1550.2,1243.7 1556.5,1243.7 1556.5,1230.4 1562.9,1230.4 1562.9,1223.9 1569.3,1223.9 1569.3,1217.7 1575.7,1217.7 1575.7,1213.8 1582.1,1213.8 1582.1,1207.1 1588.5,1207.1 1588.5,1198.7 1594.9,1198.7 1594.9,1194.5 1601.3,1194.5 1601.3,1187.3 1607.7,1187.3 1607.7,1178.6 1614.1,1178.6 1614.1,1169.9 1620.5,1169.9 1620.5,1162.8 1626.9,1162.8 1626.9,1153.8 1633.3,1153.8 1633.3,1149.5 1639.7,1149.5 1639.7,1149.5 1646.1,1149.5 1646.1,1144.8 1652.5,1144.8 1652.5,1133.7 1658.8,1133.7 1658.8,1124.3 1665.2,1124.3 1665.2,1115.5 1671.6,1115.5 1671.6,1110.6 1678,1110.6 1678,1104 1684.4,1104 1684.4,1095.7 1690.8,1095.7 1690.8,1087.2 1697.2,1087.2 1697.2,1078.4 1703.6,1078.4 1703.6,1069.4 1710,1069.4 1710,1061.7 1716.4,1061.7 1716.4,1053.9 1722.8,1053.9 1722.8,1048.2 1729.2,1048.2 1729.2,1041 1735.6,1041 1735.6,1037.2 1742,1037.2 1742,1029.6 1748.4,1029.6 1748.4,1026.8 1754.8,1026.8 1754.8,1024 1761.1,1024 1761.1,1021.8 1767.5,1021.8 1767.5,1017 1773.9,1017 1773.9,1015.4 1780.3,1015.4 1780.3,1010.9 1786.7,1010.9 1786.7,1007.8 1793.1,1007.8 1793.1,1003.2 1799.5,1003.2 1799.5,990.7 1805.9,990.7 1805.9,981.2 1812.3,981.2 1812.3,969.5 1818.7,969.5 1818.7,959 1825.1,959 1825.1,955.7 1831.5,955.7 1831.5,947.9 1837.9,947.9 1837.9,943 1844.3,943 1844.3,938 1850.7,938 1850.7,931.6 1857.1,931.6 1857.1,925 1863.4,925 1863.4,919.8 1869.8,919.8 1869.8,909.8 1876.2,909.8 1876.2,899.4 1882.6,899.4 1882.6,893.8 1889,893.8 1889,891.9 1895.4,891.9 1895.4,887.5 1901.8,887.5 1901.8,884.2 1908.2,884.2 1908.2,882.5 1914.6,882.5 1914.6,878.2 1921,878.2 1921,875 1927.4,875 1927.4,872.3 1933.8,872.3 1933.8,868.7 1940.2,868.7 1940.2,861.4 1946.6,861.4 1946.6,856.1 1953,856.1 1953,849.9 1959.4,849.9 1959.4,844.1 1965.7,844.1 1965.7,838.9 1972.1,838.9 1972.1,832.3 1978.5,832.3 1978.5,826.7 1984.9,826.7 1984.9,820.7 1991.3,820.7 1991.3,819.6 1997.7,819.6 1997.7,816.3 2004.1,816.3 2004.1,814.3 2010.5,814.3 2010.5,812 2016.9,812 2016.9,807.3 2023.3,807.3 2023.3,804.9 2029.7,804.9 2029.7,799.4 2036.1,799.4 2036.1,792.5 2042.5,792.5 2042.5,783.6 2048.9,783.6 2048.9,776.9 2055.3,776.9 2055.3,771.3 2061.7,771.3 2061.7,765.4 2068,765.4 2068,761.4 2074.4,761.4 2074.4,756.4 2080.8,756.4 2080.8,753.9 2087.2,753.9 2087.2,749.8 2093.6,749.8 2093.6,745.6 2100,745.6 2100,738.8 2106.4,738.8 2106.4,736.6 2112.8,736.6 2112.8,732.5 2119.2,732.5 2119.2,727 2125.6,727 2125.6,725.5 2132,725.5 2132,721.9 2138.4,721.9 2138.4,715.6 2144.8,715.6 2144.8,715.5 2151.2,715.5 2151.2,711.8 2157.6,711.8 2157.6,710.2 2164,710.2 2164,709.8 2170.3,709.8 2170.3,707.4 2176.7,707.4 2176.7,703.3 2183.1,703.3 2183.1,702.3 2189.5,702.3 2189.5,700.6 2195.9,700.6 2195.9,696.9 2202.3,696.9 2202.3,692.5 2208.7,692.5 2208.7,689 2215.1,689 2215.1,686.3 2221.5,686.3 2221.5,680.3 2227.9,680.3 2227.9,680.2 2234.3,680.2 2234.3,678.1 2240.7,678.1 2240.7,675 2247.1,675 2247.1,674.2 2253.5,674.2 2253.5,673.3 2259.9,673.3 2259.9,671.2 2266.2,671.2 2266.2,668 2272.6,668 2272.6,668 2279,668 2279,666.5 2285.4,666.5 2285.4,665.1 2291.8,665.1 2291.8,660.3 2298.2,660.3 2298.2,658.9 2304.6,658.9 2304.6,656.2 2311,656.2 2311,656.2 2317.4,656.2 2317.4,653 2323.8,653 2323.8,650.7 2330.2,650.7 2330.2,649.7 2336.6,649.7 2336.6,649.5 2343,649.5 2343,647.3 2349.4,647.3 2349.4,643.7 2355.8,643.7 2355.8,641.5 2362.2,641.5 2362.2,641.5 2368.5,641.5 2368.5,639.2 2374.9,639.2 2374.9,636.1 2381.3,636.1 2381.3,630.6 2387.7,630.6 2387.7,626.9 2394.1,626.9 2394.1,625.4 2400.5,625.4 2400.5,620.9 2406.9,620.9 2406.9,616.2 2413.3,616.2 2413.3,616.2 2419.7,616.2 2419.7,612.8 2426.1,612.8 2426.1,610.9 2432.5,610.9 2432.5,606.1 2438.9,606.1 2438.9,606 2445.3,606 2445.3,601 2451.7,601 2451.7,601 2458.1,601 2458.1,599.5 2464.5,599.5 2464.5,598.1 2470.8,598.1 2470.8,597.7 2477.2,597.7 2477.2,597.7 2483.6,597.7 2483.6,593.8 2490,593.8 2490,591.2 2496.4,591.2 2496.4,590.2 2502.8,590.2 2502.8,587.1 2509.2,587.1 2509.2,584.5 2515.6,584.5 2515.6,583.3 2513,583.3" fill="none" stroke="#000" stroke-width="4.3" stroke-linejoin="miter"/>
<rect x="302" y="1848.5" width="6.4" height="7.4" fill="#1E90FF" stroke="#0000FF" stroke-width="4.3"/>
<rect x="539.9" y="1849.6" width="6.4" height="6.3" fill="#1E90FF" stroke="#0000FF" stroke-width="4.3"/>
<rect x="572.9" y="1849.8" width="6.4" height="6.1" fill="#1E90FF" stroke="#0000FF" stroke-width="4.3"/>
<rect x="577.8" y="1792.7" width="6.4" height="63.2" fill="#1E90FF" stroke="#0000FF" stroke-width="4.3"/>
<rect x="591" y="1844" width="6.4" height="11.9" fill="#1E90FF" stroke="#0000FF" stroke-width="4.3"/>
<rect x="597.6" y="1847.1" width="6.4" height="8.8" fill="#1E90FF" stroke="#0000FF" stroke-width="4.3"/>
<rect x="604" y="1850.1" width="6.4" height="5.8" fill="#1E90FF" stroke="#0000FF" stroke-width="4.3"/>
<rect x="635.9" y="1850.4" width="6.4" height="5.5" fill="#1E90FF" stroke="#0000FF" stroke-width="4.3"/>
<rect x="655.1" y="1850" width="6.4" height="5.9" fill="#1E90FF" stroke="#0000FF" stroke-width="4.3"/>
<rect x="706" y="1846.6" width="6.4" height="9.3" fill="#1E90FF" stroke="#0000FF" stroke-width="4.3"/>
<rect x="712.5" y="1768.5" width="6.4" height="87.4" fill="#1E90FF" stroke="#0000FF" stroke-width="4.3"/>
<rect x="801.8" y="1845.1" width="6.4" height="10.8" fill="#1E90FF" stroke="#0000FF" stroke-width="4.3"/>
<rect x="827.3" y="1837.7" width="6.4" height="18.2" fill="#1E90FF" stroke="#0000FF" stroke-width="4.3"/>
<rect x="853.4" y="1801.8" width="6.4" height="54.1" fill="#1E90FF" stroke="#0000FF" stroke-width="4.3"/>
<rect x="859.5" y="1813.3" width="6.4" height="42.6" fill="#1E90FF" stroke="#0000FF" stroke-width="4.3"/>
<rect x="955.1" y="1851.8" width="6.4" height="4.1" fill="#1E90FF" stroke="#0000FF" stroke-width="4.3"/>
<rect x="1012.2" y="1854.5" width="6.4" height="1.4" fill="#1E90FF" stroke="#0000FF" stroke-width="4.3"/>
<rect x="1018.8" y="1812.8" width="6.4" height="43.1" fill="#1E90FF" stroke="#0000FF" stroke-width="4.3"/>
<rect x="1172.9" y="1848.8" width="6.4" height="7.1" fill="#1E90FF" stroke="#0000FF" stroke-width="4.3"/>
<rect x="1275.1" y="1840.8" width="6.4" height="15.1" fill="#1E90FF" stroke="#0000FF" stroke-width="4.3"/>
<rect x="1345.3" y="1845.1" width="6.4" height="10.8" fill="#1E90FF" stroke="#0000FF" stroke-width="4.3"/>
<rect x="1498.6" y="1845.8" width="6.4" height="10.1" fill="#1E90FF" stroke="#0000FF" stroke-width="4.3"/>
<rect x="1639.5" y="1849.6" width="6.4" height="6.3" fill="#1E90FF" stroke="#0000FF" stroke-width="4.3"/>
<rect x="1658.7" y="1816" width="6.4" height="39.9" fill="#1E90FF" stroke="#0000FF" stroke-width="4.3"/>
<rect x="1684" y="1853.7" width="6.4" height="2.2" fill="#1E90FF" stroke="#0000FF" stroke-width="4.3"/>
<rect x="1767.8" y="1854.8" width="6.4" height="1.1" fill="#1E90FF" stroke="#0000FF" stroke-width="4.3"/>
<rect x="1773.3" y="1804.8" width="6.4" height="51.1" fill="#1E90FF" stroke="#0000FF" stroke-width="4.3"/>
<rect x="1792.5" y="1821" width="6.4" height="34.9" fill="#1E90FF" stroke="#0000FF" stroke-width="4.3"/>
<rect x="1811.8" y="1841.4" width="6.4" height="14.5" fill="#1E90FF" stroke="#0000FF" stroke-width="4.3"/>
<rect x="1850.2" y="1838.8" width="6.4" height="17.1" fill="#1E90FF" stroke="#0000FF" stroke-width="4.3"/>
<rect x="1894.7" y="1852.1" width="6.4" height="3.8" fill="#1E90FF" stroke="#0000FF" stroke-width="4.3"/>
<rect x="1907.9" y="1826.2" width="6.4" height="29.7" fill="#1E90FF" stroke="#0000FF" stroke-width="4.3"/>
<rect x="1933.7" y="1837.2" width="6.4" height="18.7" fill="#1E90FF" stroke="#0000FF" stroke-width="4.3"/>
<rect x="1959.2" y="1813" width="6.4" height="42.9" fill="#1E90FF" stroke="#0000FF" stroke-width="4.3"/>
<rect x="2086.8" y="1853.3" width="6.4" height="2.6" fill="#1E90FF" stroke="#0000FF" stroke-width="4.3"/>
<rect x="2100" y="1689.3" width="6.4" height="166.6" fill="#1E90FF" stroke="#0000FF" stroke-width="4.3"/>
<rect x="2227.6" y="1841.8" width="6.4" height="14.1" fill="#1E90FF" stroke="#0000FF" stroke-width="4.3"/>
<rect x="2490.1" y="1816.3" width="6.4" height="39.6" fill="#1E90FF" stroke="#0000FF" stroke-width="4.3"/>
<polyline points="302,1855.9 302,1848.5 539.9,1848.5 539.9,1842.2 572.9,1842.2 572.9,1836.1 577.8,1836.1 577.8,1772.9 591,1772.9 591,1761 597.6,1761 597.6,1752.2 604,1752.2 604,1746.4 635.9,1746.4 635.9,1740.9 655.1,1740.9 655.1,1735 706,1735 706,1725.7 712.5,1725.7 712.5,1638.3 801.8,1638.3 801.8,1627.5 827.3,1627.5 827.3,1609.3 853.4,1609.3 853.4,1555.2 859.5,1555.2 859.5,1512.6 955.1,1512.6 955.1,1508.5 1012.2,1508.5 1012.2,1507.1 1018.8,1507.1 1018.8,1464 1172.9,1464 1172.9,1456.9 1275.1,1456.9 1275.1,1441.8 1345.3,1441.8 1345.3,1431 1498.6,1431 1498.6,1420.9 1639.5,1420.9 1639.5,1414.6 1658.7,1414.6 1658.7,1374.7 1684,1374.7 1684,1372.5 1767.8,1372.5 1767.8,1371.4 1773.3,1371.4 1773.3,1320.3 1792.5,1320.3 1792.5,1285.4 1811.8,1285.4 1811.8,1270.9 1850.2,1270.9 1850.2,1253.8 1894.7,1253.8 1894.7,1250 1907.9,1250 1907.9,1220.3 1933.7,1220.3 1933.7,1201.6 1959.2,1201.6 1959.2,1158.7 2086.8,1158.7 2086.8,1156.1 2100,1156.1 2100,989.5 2227.6,989.5 2227.6,975.4 2490.1,975.4 2490.1,935.8 2511,935.8" fill="none" stroke="#0000FF" stroke-width="4.3" stroke-linejoin="round"/>
<polygon points="570.5,1792.7 581,1782.2 591.5,1792.7 581,1803.2" fill="#FFA500"/>
<polygon points="705.2,1768.5 715.7,1758 726.2,1768.5 715.7,1779" fill="#FFA500"/>
<polygon points="846.1,1801.8 856.6,1791.3 867.1,1801.8 856.6,1812.3" fill="#FFA500"/>
<polygon points="2092.7,1689.3 2103.2,1678.8 2113.7,1689.3 2103.2,1699.8" fill="#FFA500"/>
<path d="M306.6 1833.2V1851.2M297.6 1842.2H315.6M300.2 1835.8L313 1848.6M300.2 1848.6L313 1835.8" stroke="#87CEEB" stroke-width="2.6" fill="none"/>
</g>
<text x="2494" y="1816.5" font-size="35.7" text-anchor="end" fill="#FFA500">4</text>
<text x="2498.1" y="508.9" font-size="35.7" text-anchor="end">Daily total and cumulative seasonal precipitation</text>
<text x="2497.3" y="560.2" font-size="35.7" text-anchor="end" fill="#FF0000">(*=missing, data available through 1958-12-31)</text>
</g>
<g id="inset">
<rect x="189.8" y="491.6" width="635.1" height="564.8" fill="#FFFFFF"/>
<clipPath id="ic"><rect x="244.2" y="512" width="561.6" height="447.1"/></clipPath>
<g clip-path="url(#ic)" fill="none" stroke-width="4.2" stroke-linejoin="round">
<polyline points="244.2,959.1 273.2,959.1 273.2,956.5 330.7,956.5 330.7,954.3 338.7,954.3 338.7,952.1 339.9,952.1 339.9,929.8 343.1,929.8 343.1,925.6 344.7,925.6 344.7,922.5 346.2,922.5 346.2,920.5 353.9,920.5 353.9,918.6 358.5,918.6 358.5,916.5 370.8,916.5 370.8,913.2 372.4,913.2 372.4,882.4 394,882.4 394,878.6 400.2,878.6 400.2,872.2 406.5,872.2 406.5,853.1 407.9,853.1 407.9,838.1 431,838.1 431,836.6 444.8,836.6 444.8,836.1 446.4,836.1 446.4,821 483.7,821 483.7,818.4 508.4,818.4 508.4,813.1 525.3,813.1 525.3,809.3 562.4,809.3 562.4,805.8 596.4,805.8 596.4,803.5 601.1,803.5 601.1,789.5 607.2,789.5 607.2,788.7 627.4,788.7 627.4,788.3 628.8,788.3 628.8,770.3 633.4,770.3 633.4,758 638.1,758 638.1,752.9 647.3,752.9 647.3,746.9 658.1,746.9 658.1,745.5 661.3,745.5 661.3,735 667.5,735 667.5,728.5 673.7,728.5 673.7,713.3 704.5,713.3 704.5,712.4 707.7,712.4 707.7,653.7 738.5,653.7 738.5,648.7 802,648.7 802,634.8 807,634.8" stroke="#E41A1C"/>
<polyline points="243.4,959.1 246.9,959.1 246.9,959.1 248.1,959.1 248.1,950.1 250.1,950.1 250.1,941.2 257.8,941.2 257.8,941.2 259.8,941.2 259.8,937.3 282,937.3 282,937.3 283.1,937.3 283.1,932.6 314.3,932.6 314.3,932.6 318.2,932.6 318.2,930.7 327.9,930.7 327.9,930.7 329.8,930.7 329.8,905.4 333.7,905.4 333.7,903.4 335.7,903.4 335.7,891.7 397.9,891.7 397.9,891.7 399.9,891.7 399.9,886.7 411.6,886.7 411.6,886.7 414.7,886.7 414.7,878.1 415.5,878.1 415.5,848.9 438.8,848.9 438.8,848.9 440.8,848.9 440.8,845 475.8,845 475.8,845 477.7,845 477.7,842.3 518.6,842.3 518.6,842.3 522.5,842.3 522.5,837.2 524.4,837.2 524.4,829.5 542,829.5 542,829.5 543.9,829.5 543.9,825.6 549.7,825.6 549.7,825.6 551.7,825.6 551.7,813.9 584.8,813.9 584.8,813.9 588.7,813.9 588.7,810 594.5,810 594.5,810 598.4,810 598.4,806.1 602.3,806.1 602.3,802.2 606.2,802.2 606.2,796.4 608.1,796.4 608.1,790.5 610.1,790.5 610.1,769.1 612,769.1 612,743.8 615.9,743.8 615.9,741.9 617.8,741.9 617.8,735.3 629.5,735.3 629.5,735.3 631.5,735.3 631.5,708.8 633.4,708.8 633.4,706.1 641.2,706.1 641.2,706.1 643.1,706.1 643.1,699.9 660.7,699.9 660.7,699.9 662.6,699.9 662.6,660.2 666.5,660.2 666.5,658.2 715.1,658.2 715.1,658.2 717.1,658.2 717.1,654.3 783.3,654.3 783.3,654.3 787.1,654.3 787.1,650.4 805.8,650.4 805.8,650.4" stroke="#377EB8"/>
<polyline points="243.4,959.1 300.7,959.1 300.7,959.1 302.6,959.1 302.6,952.1 308.4,952.1 308.4,952.1 310.4,952.1 310.4,942.3 318.2,942.3 318.2,942.3 320.1,942.3 320.1,928.7 322.1,928.7 322.1,919 327.9,919 327.9,919 329.1,919 329.1,909.3 331,909.3 331,899.5 359,899.5 359,899.5 361,899.5 361,889.8 362.9,889.8 362.9,874.2 364.9,874.2 364.9,866.4 366.8,866.4 366.8,855.5 370.7,855.5 370.7,854.8 462.2,854.8 462.2,854.8 466.1,854.8 466.1,852.8 470,852.8 470,846.2 503,846.2 503,846.2 505,846.2 505,837.2 508.9,837.2 508.9,834.5 553.6,834.5 553.6,834.5 555.6,834.5 555.6,819.7 577,819.7 577,819.7 578.9,819.7 578.9,813.9 580.9,813.9 580.9,797.6 584.8,797.6 584.8,795.6 610.1,795.6 610.1,795.6 612,795.6 612,791.7 614,791.7 614,784.7 615.9,784.7 615.9,773 617.8,773 617.8,762.5 623.7,762.5 623.7,761.4 625.6,761.4 625.6,757.5 633.4,757.5 633.4,756.7 635.4,756.7 635.4,718.5 649,718.5 649,717.8 650.9,717.8 650.9,715.8 668.4,715.8 668.4,714.7 670.4,714.7 670.4,703 675.1,703 675.1,701 676.2,701 676.2,656.3 680.1,656.3 680.1,650.4 686,650.4 686,649.3 730.7,649.3 730.7,649.3 732.7,649.3 732.7,605.7 736.6,605.7 736.6,603 775.5,603 775.5,603 779.4,603 779.4,597.1 783.3,597.1 783.3,595.9 805.8,595.9 805.8,595.9" stroke="#4DAF4A"/>
<polyline points="244.2,959.1 270.3,947.5 290.1,940.8 292.2,938.7 300.8,936.4 301.7,934.8 314.8,927.2 322.8,923.4 330.7,920.9 335.3,918 346,914.1 353.9,908.3 358.5,904.9 371.8,899.1 383.9,893.8 389.2,889.4 397.9,886.5 407.8,881.2 420.4,875.9 421.8,872.9 431,870.1 437.1,864.7 454.2,858 466.8,851.2 475.5,849.2 482.2,843.9 498.7,837.2 502.8,833.6 519.2,826.9 527.2,820.5 533.2,811.3 539,800.2 545.4,794.3 548.5,788.5 556.4,779.7 561,773 567.1,760 572.4,749.7 576.2,739.2 585.7,725.6 593.6,711.5 597.9,708.6 601.4,700 607.4,691.2 613.7,678.5 620.9,668.2 633.3,659.2 639.4,643.9 650.9,628.6 653.6,621.6 667.1,611.2 679.9,594.2 688.8,589 697.1,576.6 707.9,565.5 717.4,557.1 729.9,551.6 736.9,545.3 748.8,540.5 761.2,534.9 772.7,530.1 782.1,522.4 791.8,516.8 799.3,515 807.5,510.9" stroke="#000" stroke-dasharray="17 17"/>
</g>
<rect x="244.2" y="512" width="561.6" height="447.1" fill="none" stroke="#333333" stroke-width="1.8"/>
<line x1="234.7" y1="959.1" x2="244.2" y2="959.1" stroke="#333333" stroke-width="4.2"/>
<text x="226.6" y="969.6" font-size="29.2" font-weight="bold" text-anchor="end" fill="#4D4D4D">0</text>
<line x1="234.7" y1="855.7" x2="244.2" y2="855.7" stroke="#333333" stroke-width="4.2"/>
<text x="226.6" y="866.2" font-size="29.2" font-weight="bold" text-anchor="end" fill="#4D4D4D">2</text>
<line x1="234.7" y1="752.2" x2="244.2" y2="752.2" stroke="#333333" stroke-width="4.2"/>
<text x="226.6" y="762.7" font-size="29.2" font-weight="bold" text-anchor="end" fill="#4D4D4D">4</text>
<line x1="234.7" y1="648.8" x2="244.2" y2="648.8" stroke="#333333" stroke-width="4.2"/>
<text x="226.6" y="659.3" font-size="29.2" font-weight="bold" text-anchor="end" fill="#4D4D4D">6</text>
<line x1="234.7" y1="545.3" x2="244.2" y2="545.3" stroke="#333333" stroke-width="4.2"/>
<text x="226.6" y="555.8" font-size="29.2" font-weight="bold" text-anchor="end" fill="#4D4D4D">8</text>
<line x1="244.2" y1="959.1" x2="244.2" y2="968.6" stroke="#333333" stroke-width="4.2"/>
<text transform="translate(260.2,994) rotate(-45)" font-size="29.2" font-weight="bold" text-anchor="end" fill="#4D4D4D">Jan</text>
<line x1="292.1" y1="959.1" x2="292.1" y2="968.6" stroke="#333333" stroke-width="4.2"/>
<text transform="translate(308.1,994) rotate(-45)" font-size="29.2" font-weight="bold" text-anchor="end" fill="#4D4D4D">Feb</text>
<line x1="335.4" y1="959.1" x2="335.4" y2="968.6" stroke="#333333" stroke-width="4.2"/>
<text transform="translate(351.4,994) rotate(-45)" font-size="29.2" font-weight="bold" text-anchor="end" fill="#4D4D4D">Mar</text>
<line x1="383.2" y1="959.1" x2="383.2" y2="968.6" stroke="#333333" stroke-width="4.2"/>
<text transform="translate(399.2,994) rotate(-45)" font-size="29.2" font-weight="bold" text-anchor="end" fill="#4D4D4D">Apr</text>
<line x1="429.6" y1="959.1" x2="429.6" y2="968.6" stroke="#333333" stroke-width="4.2"/>
<text transform="translate(445.6,994) rotate(-45)" font-size="29.2" font-weight="bold" text-anchor="end" fill="#4D4D4D">May</text>
<line x1="477.5" y1="959.1" x2="477.5" y2="968.6" stroke="#333333" stroke-width="4.2"/>
<text transform="translate(493.5,994) rotate(-45)" font-size="29.2" font-weight="bold" text-anchor="end" fill="#4D4D4D">Jun</text>
<line x1="523.8" y1="959.1" x2="523.8" y2="968.6" stroke="#333333" stroke-width="4.2"/>
<text transform="translate(539.8,994) rotate(-45)" font-size="29.2" font-weight="bold" text-anchor="end" fill="#4D4D4D">Jul</text>
<line x1="571.7" y1="959.1" x2="571.7" y2="968.6" stroke="#333333" stroke-width="4.2"/>
<text transform="translate(587.7,994) rotate(-45)" font-size="29.2" font-weight="bold" text-anchor="end" fill="#4D4D4D">Aug</text>
<line x1="619.6" y1="959.1" x2="619.6" y2="968.6" stroke="#333333" stroke-width="4.2"/>
<text transform="translate(635.6,994) rotate(-45)" font-size="29.2" font-weight="bold" text-anchor="end" fill="#4D4D4D">Sep</text>
<line x1="666" y1="959.1" x2="666" y2="968.6" stroke="#333333" stroke-width="4.2"/>
<text transform="translate(682,994) rotate(-45)" font-size="29.2" font-weight="bold" text-anchor="end" fill="#4D4D4D">Oct</text>
<line x1="713.9" y1="959.1" x2="713.9" y2="968.6" stroke="#333333" stroke-width="4.2"/>
<text transform="translate(729.9,994) rotate(-45)" font-size="29.2" font-weight="bold" text-anchor="end" fill="#4D4D4D">Nov</text>
<line x1="760.2" y1="959.1" x2="760.2" y2="968.6" stroke="#333333" stroke-width="4.2"/>
<text transform="translate(776.2,994) rotate(-45)" font-size="29.2" font-weight="bold" text-anchor="end" fill="#4D4D4D">Dec</text>
<line x1="257" y1="564.8" x2="314.5" y2="564.8" stroke="#E41A1C" stroke-width="4.3"/>
<text x="340.3" y="575.3" font-size="29.2" font-weight="bold">1958</text>
<line x1="257" y1="636.8" x2="314.5" y2="636.8" stroke="#377EB8" stroke-width="4.3"/>
<text x="340.3" y="647.3" font-size="29.2" font-weight="bold">1995</text>
<line x1="257" y1="708.8" x2="314.5" y2="708.8" stroke="#4DAF4A" stroke-width="4.3"/>
<text x="340.3" y="719.3" font-size="29.2" font-weight="bold">2003</text>
<text x="857.2" y="533.7" font-size="35.7">ONI: 0.83</text>
</g>
<line x1="170.5" y1="1855.9" x2="182" y2="1855.9" stroke="#333333" stroke-width="4.4"/>
<text x="160.2" y="1869" font-size="36.67" text-anchor="end" fill="#4D4D4D">0.0</text>
<line x1="170.5" y1="1489.1" x2="182" y2="1489.1" stroke="#333333" stroke-width="4.4"/>
<text x="160.2" y="1502.2" font-size="36.67" text-anchor="end" fill="#4D4D4D">2.5</text>
<line x1="170.5" y1="1122.3" x2="182" y2="1122.3" stroke="#333333" stroke-width="4.4"/>
<text x="160.2" y="1135.4" font-size="36.67" text-anchor="end" fill="#4D4D4D">5.0</text>
<line x1="170.5" y1="755.5" x2="182" y2="755.5" stroke="#333333" stroke-width="4.4"/>
<text x="160.2" y="768.6" font-size="36.67" text-anchor="end" fill="#4D4D4D">7.5</text>
<line x1="185.1" y1="1855.9" x2="185.1" y2="1867.4" stroke="#333333" stroke-width="4.4"/>
<line x1="383.3" y1="1855.9" x2="383.3" y2="1867.4" stroke="#333333" stroke-width="4.4"/>
<line x1="562.3" y1="1855.9" x2="562.3" y2="1867.4" stroke="#333333" stroke-width="4.4"/>
<line x1="760.5" y1="1855.9" x2="760.5" y2="1867.4" stroke="#333333" stroke-width="4.4"/>
<line x1="952.3" y1="1855.9" x2="952.3" y2="1867.4" stroke="#333333" stroke-width="4.4"/>
<line x1="1150.5" y1="1855.9" x2="1150.5" y2="1867.4" stroke="#333333" stroke-width="4.4"/>
<line x1="1342.4" y1="1855.9" x2="1342.4" y2="1867.4" stroke="#333333" stroke-width="4.4"/>
<line x1="1540.6" y1="1855.9" x2="1540.6" y2="1867.4" stroke="#333333" stroke-width="4.4"/>
<line x1="1738.8" y1="1855.9" x2="1738.8" y2="1867.4" stroke="#333333" stroke-width="4.4"/>
<line x1="1930.6" y1="1855.9" x2="1930.6" y2="1867.4" stroke="#333333" stroke-width="4.4"/>
<line x1="2128.8" y1="1855.9" x2="2128.8" y2="1867.4" stroke="#333333" stroke-width="4.4"/>
<line x1="2320.6" y1="1855.9" x2="2320.6" y2="1867.4" stroke="#333333" stroke-width="4.4"/>
<rect x="184.2" y="459" width="2329.2" height="1394.7" fill="none" stroke="#000" stroke-width="4.45"/>
<text transform="translate(56,1155) rotate(-90)" font-size="45.83" text-anchor="middle">Inches</text>
<g id="temppanel">
<clipPath id="tpc"><rect x="182" y="1913.2" width="2333.6" height="408.5"/></clipPath>
<line x1="182" y1="2233" x2="2515.6" y2="2233" stroke="#EBEBEB" stroke-width="4.4"/>
<line x1="182" y1="2121.5" x2="2515.6" y2="2121.5" stroke="#EBEBEB" stroke-width="4.4"/>
<line x1="182" y1="2010" x2="2515.6" y2="2010" stroke="#EBEBEB" stroke-width="4.4"/>
<line x1="380.7" y1="1913.2" x2="380.7" y2="2321.7" stroke="#EBEBEB" stroke-width="4.4"/>
<line x1="560.2" y1="1913.2" x2="560.2" y2="2321.7" stroke="#EBEBEB" stroke-width="4.4"/>
<line x1="759" y1="1913.2" x2="759" y2="2321.7" stroke="#EBEBEB" stroke-width="4.4"/>
<line x1="951.3" y1="1913.2" x2="951.3" y2="2321.7" stroke="#EBEBEB" stroke-width="4.4"/>
<line x1="1150.1" y1="1913.2" x2="1150.1" y2="2321.7" stroke="#EBEBEB" stroke-width="4.4"/>
<line x1="1342.4" y1="1913.2" x2="1342.4" y2="2321.7" stroke="#EBEBEB" stroke-width="4.4"/>
<line x1="1541.1" y1="1913.2" x2="1541.1" y2="2321.7" stroke="#EBEBEB" stroke-width="4.4"/>
<line x1="1739.9" y1="1913.2" x2="1739.9" y2="2321.7" stroke="#EBEBEB" stroke-width="4.4"/>
<line x1="1932.2" y1="1913.2" x2="1932.2" y2="2321.7" stroke="#EBEBEB" stroke-width="4.4"/>
<line x1="2130.9" y1="1913.2" x2="2130.9" y2="2321.7" stroke="#EBEBEB" stroke-width="4.4"/>
<line x1="2323.3" y1="1913.2" x2="2323.3" y2="2321.7" stroke="#EBEBEB" stroke-width="4.4"/>
<g clip-path="url(#tpc)">
<path d="M186.3 2093.7H192.7V2215.4H186.3ZM192.4 2093.7H199V2185.7H192.4ZM198.7 2104.7H203.1V2158.2H198.7ZM202.8 2104.7H210V2185.7H202.8ZM209.7 2088.2H215.5V2185.7H209.7ZM215.2 2088.2H225.1V2202.2H215.2ZM224.8 2104.7H229.2V2199.5H224.8ZM228.9 2077.2H232V2199.5H228.9ZM231.7 2077.2H237.5V2196.7H231.7ZM237.2 2082.7H243V2196.7H237.2ZM242.7 2082.7H244.3V2187.1H242.7ZM244 2092.3H251.2V2187.1H244ZM250.9 2101.9H253.9V2187.1H250.9ZM253.6 2101.9H255.3V2196.7H253.6ZM255 2089.6H263.6V2196.7H255ZM263.3 2089.6H264.9V2191.2H263.3ZM264.6 2086.8H267.7V2191.2H264.6ZM267.4 2086.8H274.5V2204.4H267.4ZM274.2 2071.7H275.9V2204.4H274.2ZM275.6 2071.7H282.8V2196.7H275.6ZM282.5 2074.5H288.3V2185.7H282.5ZM288 2079.9H291V2185.7H288ZM290.7 2079.9H295.1V2180.2H290.7ZM294.9 2110.2H302V2180.2H294.9ZM301.7 2132.1H306.1V2180.2H301.7ZM305.8 2132.1H311.6V2218.7H305.8ZM311.3 2121.2H313V2218.7H311.3ZM312.7 2121.2H319.9V2202.2H312.7ZM319.6 2121.2H321.2V2199.5H319.6ZM320.9 2126.6H325.4V2199.5H320.9ZM325.1 2099.2H326.7V2199.5H325.1ZM326.4 2099.2H332.2V2202.2H326.4ZM331.9 2085.4H333.6V2202.2H331.9ZM333.3 2085.4H339.1V2194H333.3ZM338.8 2093.7H346V2191.2H338.8ZM345.7 2097.8H350.1V2183H345.7ZM349.8 2093.7H351.5V2183H349.8ZM351.2 2093.7H357V2185.7H351.2ZM356.7 2081.3H362.5V2185.7H356.7ZM362.2 2081.3H363.8V2177.5H362.2ZM363.5 2054.4H370.7V2177.5H363.5ZM370.4 2054.4H372.1V2196.7H370.4ZM371.8 2066.2H378.9V2196.7H371.8ZM378.6 2066.2H381.7V2185.7H378.6ZM381.4 2063.5H383.1V2185.7H381.4ZM382.8 2063.5H389.9V2195.3H382.8ZM389.6 2063.5H391.3V2199.5H389.6ZM391 2071.7H398.2V2199.5H391ZM397.9 2074.5H403.7V2177.5H397.9ZM403.4 2074.5H405V2180.2H403.4ZM404.7 2084.1H409.2V2180.2H404.7ZM408.9 2074.5H418.8V2180.2H408.9ZM418.5 2074.5H421.5V2174.7H418.5ZM421.2 2065.7H427V2174.7H421.2ZM426.7 2065.7H435.3V2180.2H426.7ZM435 2077.2H442.1V2180.2H435ZM441.8 2082.7H447.6V2180.2H441.8ZM447.3 2082.7H449V2198.9H447.3ZM448.7 2088.2H455.9V2198.9H448.7ZM455.6 2093.7H460V2183H455.6ZM459.7 2085.4H460.3V2183H459.7ZM460 2085.4H465.5V2179.7H460ZM465.2 2077.2H466V2179.7H465.2ZM465.7 2077.2H472.3V2202.5H465.7ZM472 2037.9H474.8V2202.5H472ZM474.5 2037.9H487.5V2178.8H474.5ZM487.2 2040.7H488V2178.8H487.2ZM487.7 2040.7H499.8V2173.9H487.7ZM499.5 2046.2H500.4V2173.9H499.5ZM500.1 2046.2H506.7V2159.1H500.1ZM506.4 2059.9H507V2159.1H506.4ZM506.7 2059.9H513.6V2129.9H506.7ZM513.3 2066.2H517.4V2123.9H513.3ZM517.1 2066.2H517.7V2156.9H517.1ZM517.4 2048.9H524.5V2156.9H517.4ZM524.2 2043.4H532V2156.9H524.2ZM531.7 2043.4H532.8V2166.5H531.7ZM532.5 2062.1H545.1V2166.5H532.5ZM544.9 2104.7H549.3V2166.5H544.9ZM549 2101.9H549.5V2166.5H549ZM549.2 2101.9H557.5V2209.1H549.2ZM557.2 2107.4H558.3V2209.1H557.2ZM558 2107.4H563V2187.6H558ZM562.7 2097.8H567.1V2187.6H562.7ZM566.8 2097.8H569.9V2196.4H566.8ZM569.6 2093.7H576.7V2196.4H569.6ZM576.4 2107.4H577.3V2196.4H576.4ZM577 2107.4H581.4V2166.5H577ZM581.1 2085.4H590.5V2166.5H581.1ZM590.2 2093.7H594.3V2126.9H590.2ZM594 2093.7H596V2166.5H594ZM595.7 2098.4H601.5V2166.5H595.7ZM601.2 2095.6H607V2166.5H601.2ZM606.7 2090.9H612.5V2166.5H606.7ZM612.2 2090.9H613.8V2176.6H612.2ZM613.5 2077.2H622.1V2176.6H613.5ZM621.8 2104.7H622.9V2176.6H621.8ZM622.6 2104.7H631.7V2164.3H622.6ZM631.4 2093.7H638.6V2164.3H631.4ZM638.3 2082.7H645.4V2164.3H638.3ZM645.1 2079.9H652.3V2164.3H645.1ZM652 2066.2H655V2164.3H652ZM654.7 2066.2H657.8V2129.9H654.7ZM657.5 2063.5H660.3V2129.9H657.5ZM660 2063.5H664.7V2123.9H660ZM664.4 2060.7H672.9V2157.7H664.4ZM672.6 2066.2H677V2157.7H672.6ZM676.7 2066.2H678.4V2168.7H676.7ZM678.1 2049.7H683.9V2168.7H678.1ZM683.6 2032.4H687.2V2168.7H683.6ZM686.9 2032.4H692.1V2137.1H686.9ZM691.8 2042.9H693.2V2137.1H691.8ZM692.9 2042.9H696.8V2112.9H692.9ZM696.5 2042.9H697.6V2119H696.5ZM697.3 2045.6H703.4V2119H697.3ZM703.1 2045.6H705.9V2144.5H703.1ZM705.6 2041.5H712.7V2144.5H705.6ZM712.4 2066.2H716.9V2144.5H712.4ZM716.6 2063.5H719.6V2144.5H716.6ZM719.3 2063.5H722.3V2132.7H719.3ZM722 2054.4H729.8V2159.1H722ZM729.5 2054.4H730.6V2168.7H729.5ZM730.3 2057.1H737.5V2168.7H730.3ZM737.2 2079.9H738.6V2168.7H737.2ZM738.3 2079.9H741.6V2160.7H738.3ZM741.3 2049.7H742.1V2160.7H741.3ZM741.8 2049.7H747.1V2165.7H741.8ZM746.8 2045.6H756.7V2165.7H746.8ZM756.4 2037.4H757.5V2165.7H756.4ZM757.2 2037.4H764.9V2147.3H757.2ZM764.6 2037.4H765.1V2112.9H764.6ZM764.9 2053.8H767V2141.8H764.9ZM766.7 2041.5H776.1V2157.7H766.7ZM775.8 2041.5H776.6V2139H775.8ZM776.3 2044.2H786.2V2139H776.3ZM785.9 2044.2H787.6V2148.6H785.9ZM787.3 2036H801.4V2148.6H787.3ZM801.1 2045.6H808.2V2141.8H801.1ZM807.9 2067.6H812.3V2115.7H807.9ZM812 2051.1H820.6V2165.1H812ZM820.3 2053.8H827.5V2141.8H820.3ZM827.2 2092.3H831.6V2141.8H827.2ZM831.3 2059.3H838.4V2141.8H831.3ZM838.1 2037.4H845.3V2165.1H838.1ZM845 2025H846.7V2165.1H845ZM846.4 2025H853.6V2156.9H846.4ZM853.3 2025H859.1V2133.5H853.3ZM858.8 2051.1H864V2133.5H858.8ZM863.7 2015.4H872.8V2133.5H863.7ZM872.5 2020.9H876.9V2112.9H872.5ZM876.6 2020.9H883.8V2133.5H876.6ZM883.5 2009.9H889.3V2133.5H883.5ZM889 1993.4H897.5V2133.5H889ZM897.2 1993.4H901.6V2112.9H897.2ZM901.3 1993.4H904.4V2137.6H901.3ZM904.1 2018.1H911.2V2137.6H904.1ZM910.9 2018.1H915.4V2112.9H910.9ZM915.1 2018.1H922.2V2132.1H915.1ZM921.9 2015.4H923.6V2132.1H921.9ZM923.3 2015.4H927.7V2107.4H923.3ZM927.4 2015.4H936V2128H927.4ZM935.7 2031.9H940.1V2128H935.7ZM939.8 2023.6H947V2129.4H939.8ZM946.7 2020.9H949.7V2129.4H946.7ZM949.4 2020.9H955.2V2119.8H949.4ZM954.9 2040.1H956.6V2119.8H954.9ZM956.3 2040.1H960.1V2096.4H956.3ZM959.9 2040.1H960.7V2137.6H959.9ZM960.4 2037.4H966.2V2137.6H960.4ZM965.9 2031.9H968.9V2137.6H965.9ZM968.6 2031.9H973.1V2129.4H968.6ZM972.8 1998.9H979.9V2129.4H972.8ZM979.6 1993.4H981.3V2129.4H979.6ZM981 1993.4H988.2V2117H981ZM987.9 1993.4H992.3V2077.2H987.9ZM992 1993.4H993.7V2096.4H992ZM993.4 2007.1H997.8V2096.4H993.4ZM997.5 2007.1H999.2V2118.4H997.5ZM998.9 2004.4H1004.7V2118.4H998.9ZM1004.4 2004.4H1011.5V2123.9H1004.4ZM1011.2 1998.9H1012.9V2123.9H1011.2ZM1012.6 1998.9H1017V2117H1012.6ZM1016.7 1998.9H1018.4V2134.9H1016.7ZM1018.1 2003H1026.1V2134.9H1018.1ZM1025.8 2003H1030.8V2117H1025.8ZM1030.5 1996.2H1037.6V2126.6H1030.5ZM1037.3 1993.4H1039V2126.6H1037.3ZM1038.7 1993.4H1045.9V2119.8H1038.7ZM1045.6 2003H1050V2111.5H1045.6ZM1049.7 2003H1051.4V2118.4H1049.7ZM1051.1 2015.4H1055.5V2118.4H1051.1ZM1055.2 1998.9H1058.2V2118.4H1055.2ZM1057.9 1998.9H1062.3V2110.2H1057.9ZM1062 1996.2H1070.6V2110.2H1062ZM1070.3 1994.8H1076.1V2096.4H1070.3ZM1075.8 1994.8H1081.6V2107.4H1075.8ZM1081.3 1985.2H1084.3V2107.4H1081.3ZM1084 1985.2H1088.4V2096.4H1084ZM1088.1 1979.7H1096.7V2096.4H1088.1ZM1096.4 1989.3H1100.8V2082.7H1096.4ZM1100.5 1982.4H1107.7V2092.3H1100.5ZM1107.4 1976.9H1114.5V2096.4H1107.4ZM1114.2 1968.1H1122.8V2096.4H1114.2ZM1122.5 1968.1H1129.7V2085.4H1122.5ZM1129.4 1968.1H1133.8V2082.7H1129.4ZM1133.5 1968.1H1135.2V2096.4H1133.5ZM1134.8 1976.9H1139.3V2096.4H1134.8ZM1139 1970.9H1142V2096.4H1139ZM1141.7 1970.9H1146.1V2088.2H1141.7ZM1145.8 1970.9H1148.9V2115.7H1145.8ZM1148.6 1990.7H1153V2115.7H1148.6ZM1152.7 1968.1H1154.4V2115.7H1152.7ZM1154.1 1968.1H1161.2V2104.7H1154.1ZM1160.9 1968.1H1165.4V2079.9H1160.9ZM1165.1 1965.4H1173.6V2079.9H1165.1ZM1173.3 1973.6H1179.1V2074.5H1173.3ZM1178.8 1982.4H1180.5V2074.5H1178.8ZM1180.2 1982.4H1184.6V2058H1180.2ZM1184.3 1982.4H1191.5V2077.2H1184.3ZM1191.2 1976.9H1197V2082.7H1191.2ZM1196.7 1968.1H1205.2V2098.4H1196.7ZM1204.9 1974.2H1210.7V2098.4H1204.9ZM1210.4 1968.1H1218.4V2098.4H1210.4ZM1218.1 1968.1H1218.9V2092.3H1218.1ZM1218.6 1974.2H1223.1V2092.3H1218.6ZM1222.8 1968.1H1224.4V2092.3H1222.8ZM1224.1 1968.1H1231.3V2077.2H1224.1ZM1231 1968.1H1236.8V2071.7H1231ZM1236.5 1968.1H1242.3V2074.5H1236.5ZM1242 1959.9H1243.7V2074.5H1242ZM1243.4 1959.9H1250.5V2077.2H1243.4ZM1250.2 1968.7H1254.7V2055.2H1250.2ZM1254.4 1968.7H1261.5V2069H1254.4ZM1261.2 1962.6H1269.8V2077.2H1261.2ZM1269.5 1971.4H1273.9V2058H1269.5ZM1273.6 1971.4H1276.6V2066.2H1273.6ZM1276.3 1997.5H1280.2V2066.2H1276.3ZM1279.9 1965.9H1286.2V2066.2H1279.9ZM1285.9 1954.4H1287.6V2066.2H1285.9ZM1287.3 1954.4H1295.9V2084.6H1287.3ZM1295.6 1954.4H1305.5V2066.2H1295.6ZM1305.2 1954.4H1308.2V2084.6H1305.2ZM1307.9 1975.5H1312.3V2084.6H1307.9ZM1312 1965.9H1315.1V2084.6H1312ZM1314.8 1965.9H1319.2V2060.7H1314.8ZM1318.9 1965.9H1326.1V2071.7H1318.9ZM1325.8 1959.9H1337.1V2071.7H1325.8ZM1336.8 1959.9H1339.8V2079.9H1336.8ZM1339.5 1975.5H1343.9V2079.9H1339.5ZM1343.6 1975.5H1350.2V2084.6H1343.6ZM1349.8 1976.4H1352.5V2084.6H1349.8ZM1352.2 1976.4H1357.2V2079.9H1352.2ZM1356.9 1962.6H1366.2V2087.4H1356.9ZM1375.6 1979.1H1383.6V2084.6H1375.6ZM1383.3 1962.6H1385.5V2084.6H1383.3ZM1385.2 1962.6H1389.6V2057.1H1385.2ZM1389.3 1953.6H1402V2057.1H1389.3ZM1401.7 1953.6H1411V2073.6H1401.7ZM1427.8 1950.8H1434.9V2050.5H1427.8ZM1434.6 1950.8H1436.3V2056H1434.6ZM1436 1975.5H1443.2V2056H1436ZM1442.9 1975.5H1447.3V2050.5H1442.9ZM1447 1975.5H1455.5V2058.8H1447ZM1455.2 1990.1H1462.4V2058.8H1455.2ZM1465.7 1962.6H1477.5V2073.6H1465.7ZM1477.2 1962.6H1479.7V2084.6H1477.2ZM1479.4 1948.9H1488V2084.6H1479.4ZM1487.7 1959.9H1491.8V2065.4H1487.7ZM1491.5 1959.9H1494V2079.1H1491.5ZM1493.7 1976.9H1500.9V2079.1H1493.7ZM1500.6 2004.4H1507.2V2062.6H1500.6ZM1510.7 1973.6H1520.1V2081.9H1510.7ZM1519.8 1987.9H1524.2V2059.3H1519.8ZM1523.9 1968.1H1527V2059.3H1523.9ZM1526.7 1968.1H1530.3V2057.1H1526.7ZM1530 1959.9H1536.6V2057.1H1530ZM1536.3 1959.9H1538.5V2067H1536.3ZM1538.2 1965.4H1545.6V2067H1538.2ZM1545.3 1968.1H1550.3V2067H1545.3ZM1550 1962.6H1551.7V2067H1550ZM1551.4 1962.6H1557.2V2059.3H1551.4ZM1556.9 1957.1H1565.4V2059.3H1556.9ZM1565.1 1957.1H1570.9V2058H1565.1ZM1570.6 1973.6H1575V2058H1570.6ZM1574.7 1970.9H1581.9V2062.1H1574.7ZM1581.6 1965.4H1584.1V2062.1H1581.6ZM1583.8 1965.4H1588.8V2053.8H1583.8ZM1588.5 1965.4H1590.2V2062.1H1588.5ZM1589.8 1973.6H1595.1V2062.1H1589.8ZM1594.8 1959.9H1595.6V2062.1H1594.8ZM1595.3 1959.9H1602.5V2059.9H1595.3ZM1602.2 1954.4H1609.4V2059.9H1602.2ZM1609.1 1959.1H1613.5V2059.9H1609.1ZM1613.2 1959.1H1623.1V2076.4H1613.2ZM1622.8 1959.1H1625.9V2059.9H1622.8ZM1625.6 1957.1H1635.5V2059.9H1625.6ZM1635.2 1968.1H1639.6V2054.4H1635.2ZM1639.3 1962.6H1647.8V2057.1H1639.3ZM1647.5 1965.4H1652V2057.1H1647.5ZM1651.7 1965.4H1654.7V2065.4H1651.7ZM1654.4 1973.6H1660.2V2065.4H1654.4ZM1659.9 1968.1H1667.1V2057.1H1659.9ZM1666.8 1990.1H1671.2V2057.1H1666.8ZM1670.9 1990.1H1673.9V2064.8H1670.9ZM1673.6 1995.6H1678.1V2064.8H1673.6ZM1677.8 1987.4H1683.6V2064.8H1677.8ZM1683.3 1987.4H1684.9V2081.9H1683.3ZM1684.6 1981.9H1690.4V2081.9H1684.6ZM1690.1 1976.9H1697.3V2081.9H1690.1ZM1697 1965.4H1700V2081.9H1697ZM1699.7 1965.4H1703.3V2073.6H1699.7ZM1703 1965.4H1705.5V2084.6H1703ZM1705.2 1970.9H1711V2084.6H1705.2ZM1710.7 1965.4H1712.4V2084.6H1710.7ZM1712.1 1965.4H1717.9V2079.1H1712.1ZM1717.6 1962.6H1719.3V2079.1H1717.6ZM1719 1962.6H1724.8V2073.6H1719ZM1724.5 1962.6H1730.3V2053.8H1724.5ZM1730 1959.9H1738.5V2059.3H1730ZM1748.4 1973.6H1755V2067.6H1748.4ZM1754.7 1970.9H1763.2V2084.6H1754.7ZM1762.9 1981.9H1770.1V2076.4H1762.9ZM1769.8 1995.6H1781.1V2070.9H1769.8ZM1780.8 1992.9H1787.4V2070.9H1780.8ZM1787.1 1979.1H1793.4V2070.9H1787.1ZM1793.1 1973.6H1801.7V2068.1H1793.1ZM1801.4 1987.4H1808.6V2064.8H1801.4ZM1808.3 2001.6H1815.4V2059.9H1808.3ZM1815.1 2012.1H1818.2V2059.9H1815.1ZM1817.9 2012.1H1819.5V2092.3H1817.9ZM1819.2 2009.3H1825V2092.3H1819.2ZM1824.7 2009.3H1825.9V2121.2H1824.7ZM1825.6 2001.1H1834.7V2121.2H1825.6ZM1834.4 2006.6H1838.8V2101.9H1834.4ZM1838.5 2003.8H1842.9V2101.9H1838.5ZM1842.6 2003.8H1845.1V2099.2H1842.6ZM1844.8 1992.9H1847V2099.2H1844.8ZM1846.7 1992.9H1851.1V2088.2H1846.7ZM1850.8 1992.9H1852.5V2093.7H1850.8ZM1852.2 1998.4H1856.6V2093.7H1852.2ZM1856.3 1998.4H1864.3V2104.7H1856.3ZM1864 1984.6H1866.2V2104.7H1864ZM1865.9 1984.6H1872.6V2101.9H1865.9ZM1872.3 1992.9H1876.4V2057.1H1872.3ZM1876.1 1992.9H1878.6V2073.6H1876.1ZM1878.3 1995.6H1882.7V2073.6H1878.3ZM1882.4 1995.6H1885.5V2100.5H1882.4ZM1885.2 2012.6H1889.1V2100.5H1885.2ZM1888.8 2012.6H1891V2112.9H1888.8ZM1890.7 2015.4H1897.8V2112.9H1890.7ZM1897.5 2023.6H1902.8V2088.2H1897.5ZM1902.5 2020.9H1903.3V2088.2H1902.5ZM1903 2020.9H1908.3V2084.6H1903ZM1908 2020.9H1911.6V2090.1H1908ZM1911.3 2023.6H1921.2V2090.1H1911.3ZM1920.9 2023.6H1923.9V2104.7H1920.9ZM1923.6 2031.9H1930.3V2104.7H1923.6ZM1930 2045.6H1930.8V2104.7H1930ZM1930.5 2045.6H1935.2V2098.4H1930.5ZM1934.8 2045.6H1940.6V2098.4H1934.8ZM1940.3 2018.1H1949.4V2121.2H1940.3ZM1949.1 2029.1H1953.5V2121.2H1949.1ZM1953.2 2023.6H1956.2V2121.2H1953.2ZM1955.9 2023.6H1965.9V2088.2H1955.9ZM1965.6 2004.4H1972.7V2104.7H1965.6ZM1972.4 1998.9H1981V2110.2H1972.4ZM1980.7 2002.2H1986.5V2112.9H1980.7ZM1986.2 2002.2H1987.8V2115.7H1986.2ZM1987.5 2009.9H1993.9V2115.7H1987.5ZM1993.6 2023.6H1998.8V2107.4H1993.6ZM1998.5 2015.4H2004.9V2107.4H1998.5ZM2004.6 2012.6H2012.6V2107.4H2004.6ZM2012.3 2026.4H2013.9V2107.4H2012.3ZM2013.6 2026.4H2017.5V2098.4H2013.6ZM2017.2 2004.4H2018.1V2098.4H2017.2ZM2017.8 2004.4H2024.1V2126.6H2017.8ZM2023.8 2001.6H2030.4V2126.6H2023.8ZM2030.1 2001.6H2032.3V2134.9H2030.1ZM2032 2009.9H2035.9V2134.9H2032ZM2035.6 2007.1H2037.3V2134.9H2035.6ZM2037 2007.1H2045.5V2140.4H2037ZM2045.2 2014H2046.9V2140.4H2045.2ZM2046.6 2014H2051V2137.6H2046.6ZM2050.7 2012.6H2057.9V2137.6H2050.7ZM2057.6 2018.1H2063.4V2134.9H2057.6ZM2063.1 2018.1H2064.8V2170.6H2063.1ZM2064.5 2045.6H2068.9V2170.6H2064.5ZM2068.6 2020.9H2070.3V2170.6H2068.6ZM2070 2020.9H2077.7V2162.4H2070ZM2077.4 2034.6H2084V2137.6H2077.4ZM2087.8 2031.9H2095V2140.4H2087.8ZM2094.7 2029.1H2103.2V2140.4H2094.7ZM2102.9 2062.6H2110.1V2119.8H2102.9ZM2109.8 2098.4H2113.7V2119.8H2109.8ZM2113.4 2098.4H2116.4V2134.9H2113.4ZM2116.1 2104.7H2120.3V2134.9H2116.1ZM2120 2079.4H2128V2162.4H2120ZM2127.7 2079.4H2134.8V2159.6H2127.7ZM2139.2 2054.4H2147.2V2162.4H2139.2ZM2146.9 2051.1H2154.1V2162.4H2146.9ZM2153.8 2051.1H2159.5V2154.1H2153.8ZM2159.2 2051.1H2165V2156.9H2159.2ZM2164.7 2026.9H2171.9V2156.9H2164.7ZM2171.6 2026.9H2173.3V2159.6H2171.6ZM2173 2029.1H2177.4V2159.6H2173ZM2177.1 2026.4H2178.8V2159.6H2177.1ZM2178.5 2026.4H2186.2V2156.9H2178.5ZM2185.9 2034.6H2187V2156.9H2185.9ZM2186.7 2034.6H2193.1V2148.6H2186.7ZM2192.8 2045.6H2193.3V2148.6H2192.8ZM2193 2045.6H2197.2V2132.1H2193ZM2196.9 2042.9H2199.4V2132.1H2196.9ZM2199.1 2042.9H2204.3V2110.2H2199.1ZM2204 2042.9H2205.4V2148.6H2204ZM2205.1 2049.7H2210.4V2148.6H2205.1ZM2210.1 2048.4H2217.2V2154.1H2210.1ZM2216.9 2051.1H2225.5V2151.4H2216.9ZM2225.2 2051.1H2230.2V2159.6H2225.2ZM2229.8 2051.1H2231V2165.1H2229.8ZM2230.7 2077.2H2235.6V2165.1H2230.7ZM2235.3 2077.2H2237.8V2189.8H2235.3ZM2237.5 2121.2H2242V2189.8H2237.5ZM2241.7 2095.6H2248.3V2189.8H2241.7ZM2248 2068.1H2250.2V2189.8H2248ZM2249.9 2068.1H2257.1V2187.1H2249.9ZM2256.8 2073.6H2262V2178.8H2256.8ZM2261.7 2068.1H2270.3V2178.8H2261.7ZM2273.8 2057.1H2281.2V2176.1H2273.8ZM2280.9 2054.4H2283.2V2176.1H2280.9ZM2282.9 2054.4H2288.7V2156.9H2282.9ZM2288.4 2057.1H2295.5V2148.6H2288.4ZM2299.4 2076.4H2309.3V2181.6H2299.4ZM2309 2076.4H2312V2178.8H2309ZM2311.7 2073.6H2318.9V2178.8H2311.7ZM2318.6 2070.9H2325.2V2178.8H2318.6ZM2324.9 2065.4H2325.8V2178.8H2324.9ZM2325.5 2065.4H2332.6V2184.3H2325.5ZM2332.3 2054.4H2333.4V2184.3H2332.3ZM2333.1 2054.4H2339.5V2178.8H2333.1ZM2339.2 2032.4H2340.9V2178.8H2339.2ZM2340.6 2032.4H2347.2V2176.1H2340.6ZM2346.9 2051.6H2353.2V2176.1H2346.9ZM2357 2048.9H2362.8V2181.6H2357ZM2362.5 2048.9H2364.2V2176.1H2362.5ZM2363.9 2043.4H2370.3V2176.1H2363.9ZM2370 2043.4H2371.9V2165.1H2370ZM2371.6 2057.1H2378V2165.1H2371.6ZM2377.7 2054.4H2378.5V2165.1H2377.7ZM2378.2 2054.4H2384.8V2159.6H2378.2ZM2384.5 2059.9H2389.5V2156.9H2384.5ZM2389.2 2040.7H2397.7V2181.6H2389.2ZM2397.4 2059.9H2404.9V2181.6H2397.4ZM2408.7 2089.6H2415V2203.6H2408.7ZM2414.7 2073.6H2421.9V2209.9H2414.7ZM2421.6 2065.4H2423.8V2209.9H2421.6ZM2423.5 2065.4H2430.2V2193.4H2423.5ZM2429.8 2065.4H2441.1V2187.1H2429.8ZM2440.8 2065.4H2442.5V2189.8H2440.8ZM2442.2 2081.9H2449.4V2189.8H2442.2ZM2453.2 2081.9H2460.4V2187.1H2453.2ZM2460.1 2079.1H2467.2V2189.8H2460.1ZM2466.9 2073.6H2468.6V2189.8H2466.9ZM2468.3 2073.6H2472.7V2184.3H2468.3ZM2472.4 2073.6H2475.5V2187.1H2472.4ZM2475.2 2077.2H2481.8V2187.1H2475.2ZM2498 2123.9H2507.1V2159.6H2498Z" fill="#EEB422"/>
<polyline points="186.5,2051.1 194.7,2051.1 194.7,2040.9 201.6,2040.9 201.6,2045.6 207.1,2045.6 207.1,2050.5 214,2050.5 214,2029.1 220.3,2029.1 220.3,2057.1 226.9,2057.1 226.9,2048.4 233.2,2048.4 233.2,2046.2 239.5,2046.2 239.5,2037.4 246.1,2037.4 246.1,2042.9 252.4,2042.9 252.4,2040.7 258.7,2040.7 258.7,2043.4 265.3,2043.4 265.3,2051.1 278,2051.1 278,2046.2 284.6,2046.2 284.6,2037.4 290.9,2037.4 290.9,2023.6 297.2,2023.6 297.2,2042.9 303.8,2042.9 303.8,2034.6 310.1,2034.6 310.1,2040.1 316.4,2040.1 316.4,2048.4 323,2048.4 323,2040.7 329.3,2040.7 329.3,2037.9 335.7,2037.9 335.7,2045.6 342.3,2045.6 342.3,2026.4 348.6,2026.4 348.6,2034.6 354.9,2034.6 354.9,2048.4 361.5,2048.4 361.5,2034.6 367.8,2034.6 367.8,2040.1 374.1,2040.1 374.1,2031.9 380.7,2031.9 380.7,2015.4 387,2015.4 387,2034.6 393.4,2034.6 393.4,2031.9 399.9,2031.9 399.9,2036.8 406.3,2036.8 406.3,2034.6 419.2,2034.6 419.2,2026.4 425.5,2026.4 425.5,2023.6 431.8,2023.6 431.8,2026.4 438.4,2026.4 438.4,2023.6 444.7,2023.6 444.7,2012.6 451,2012.6 451,2015.4 457.6,2015.4 457.6,2029.1 464,2029.1 464,2023.6 476.9,2023.6 476.9,2015.4 483.2,2015.4 483.2,2023.6 489.5,2023.6 489.5,2020.9 496.1,2020.9 496.1,2009.9 502.4,2009.9 502.4,2018.1 508.7,2018.1 508.7,2015.4 515.3,2015.4 515.3,2023.6 521.6,2023.6 521.6,2029.1 528,2029.1 528,2007.1 534.6,2007.1 534.6,2012.6 540.9,2012.6 540.9,2009.9 547.2,2009.9 547.2,2020.9 553.8,2020.9 553.8,2018.1 560.1,2018.1 560.1,2023.6 566.4,2023.6 566.4,2009.9 573,2009.9 573,2015.4 579.3,2015.4 579.3,2012.6 585.7,2012.6 585.7,2009.9 598.6,2009.9 598.6,2015.4 604.9,2015.4 604.9,2009.3 611.5,2009.3 611.5,2012.1 617.8,2012.1 617.8,2001.6 624.1,2001.6 624.1,1995.6 630.7,1995.6 630.7,1993.4 637,1993.4 637,2001.6 643.4,2001.6 643.4,2007.1 649.9,2007.1 649.9,1999.5 656.3,1999.5 656.3,2001.6 669.2,2001.6 669.2,2004.4 675.5,2004.4 675.5,1995.6 694.7,1995.6 694.7,1990.7 701,1990.7 701,1995.6 714,1995.6 714,2003.8 720.3,2003.8 720.3,2001.6 726.9,2001.6 726.9,1995.6 733.2,1995.6 733.2,2001.6 739.5,2001.6 739.5,2003.8 746.1,2003.8 746.1,1995.6 752.4,1995.6 752.4,1998.4 758.7,1998.4 758.7,1993.4 777.9,1995.6 777.9,1981.9 784.7,1981.9 784.7,2001.1 797.1,2001.1 797.1,1992.9 804,1992.9 804,1989.3 810.8,1987.4 816.3,1987.4 816.3,1990.7 828.7,1990.7 828.7,1995.6 835.5,1995.6 835.5,1987.9 847.9,1987.9 847.9,1984.6 854.8,1984.6 854.8,1992.9 861.6,1992.9 861.6,1990.1 868.5,1990.1 868.5,1987.4 887.7,1987.4 887.7,1981 893.8,1981 893.8,1973.6 900.1,1973.6 900.1,1987.4 907,1987.4 907,1983.8 919.3,1983.8 919.3,1976.4 924.8,1976.4 924.8,1981 931.7,1981 931.7,1983.8 938.6,1983.8 938.6,1981.3 944.6,1981.3 944.6,1983.8 957.8,1983.8 957.8,1976.4 977,1976.4 977,1981.6 983.1,1981.6 983.1,1976.4 996.3,1976.4 996.3,1970.9 1002.3,1970.9 1002.3,1965.4 1015.5,1965.4 1015.5,1970.1 1021,1970.1 1021,1968.1 1027.9,1968.1 1027.9,1973.4 1034.7,1973.4 1034.7,1961.8 1040.8,1961.8 1040.8,1959.1 1047.1,1959.1 1047.1,1970.6 1054,1970.6 1054,1965.4 1066.3,1965.4 1066.3,1973.1 1073.2,1973.1 1073.2,1962.6 1080.1,1962.6 1080.1,1959.1 1092.4,1959.1 1092.4,1953.6 1111.6,1953.6 1111.6,1956.9 1118.5,1956.9 1118.5,1965.1 1130.9,1965.1 1130.9,1959.6 1136.9,1959.6 1136.9,1965.1 1143.2,1965.1 1143.2,1954.1 1150.1,1954.1 1150.1,1948.6 1162.5,1948.6 1162.5,1953.6 1169.3,1953.6 1169.3,1959.1 1175.4,1959.1 1175.4,1946.2 1181.7,1946.2 1181.7,1954.1 1188.6,1954.1 1188.6,1945.3 1194.6,1945.3 1194.6,1940.4 1201.5,1940.4 1201.5,1951.4 1220.2,1951.4 1220.2,1940.4 1227,1940.4 1227,1945.3 1239.4,1945.3 1239.4,1950.8 1246.3,1950.8 1246.3,1948.6 1258.6,1948.6 1258.6,1945.9 1265.5,1945.9 1265.5,1942.6 1277.9,1942.6 1277.9,1937.1 1284.7,1937.1 1284.7,1942.6 1291.6,1942.6 1291.6,1939.8 1304,1939.8 1304,1945.3 1310.3,1945.3 1310.3,1942.6 1316.3,1942.6 1316.3,1937.1 1323.2,1937.1 1323.2,1934.3 1329.5,1934.3 1329.5,1931.6 1336.1,1931.6 1336.1,1939.8 1355.1,1940.4 1355.1,1943.1 1367.5,1943.1 1367.5,1945.9 1374.3,1945.9 1374.3,1942.6 1386.7,1942.6 1386.7,1948.1 1393.6,1948.1 1393.6,1945.3 1419.7,1945.3 1419.7,1940.4 1425.7,1940.4 1425.7,1948.6 1438.4,1948.6 1438.4,1943.1 1444.4,1943.1 1444.4,1948.1 1451.3,1948.1 1451.3,1945.9 1463.6,1945.9 1463.6,1951.4 1470.5,1951.4 1470.5,1943.1 1476.5,1943.1 1476.5,1945.3 1509,1945.3 1509,1948.1 1515.3,1948.1 1515.3,1945.3 1521.9,1945.3 1521.9,1951.4 1528.2,1951.4 1528.2,1948.6 1554.3,1948.6 1554.3,1945.3 1560.3,1945.3 1560.3,1953.6 1566.6,1953.6 1566.6,1951.4 1573,1951.4 1573,1948.6 1579,1948.6 1579,1950.8 1605.1,1950.8 1605.1,1951.4 1638.1,1951.4 1638.1,1945.3 1643.6,1945.3 1643.6,1948.6 1650.4,1948.6 1650.4,1954.1 1662.8,1954.1 1662.8,1948.6 1668.8,1948.6 1668.8,1954.1 1675.7,1954.1 1675.7,1951.4 1682,1951.4 1682,1948.6 1688.4,1948.6 1688.4,1945.9 1694.9,1945.9 1694.9,1959.6 1701.3,1959.6 1701.3,1951.4 1707.6,1951.4 1707.6,1956.9 1714.2,1956.9 1714.2,1950.8 1720.5,1950.8 1720.5,1954.1 1726.8,1954.1 1726.8,1951.4 1733.4,1951.4 1733.4,1956.9 1739.7,1956.9 1739.7,1954.1 1759,1954.1 1759,1959.6 1771.9,1959.6 1771.9,1956.9 1778.2,1956.9 1778.2,1959.1 1797.4,1959.1 1797.4,1968.1 1810.3,1968.1 1810.3,1970.9 1816.6,1970.9 1816.6,1968.1 1829.6,1968.1 1829.6,1962.6 1835.9,1962.6 1835.9,1965.4 1842.2,1965.4 1842.2,1970.9 1848.8,1970.9 1848.8,1968.1 1861.4,1968.1 1861.4,1965.4 1868,1965.4 1868,1970.9 1874.3,1970.9 1874.3,1965.4 1880.7,1965.4 1880.7,1976.4 1893.6,1976.4 1893.6,1973.6 1899.9,1973.6 1899.9,1970.9 1912.8,1970.9 1912.8,1968.1 1932,1968.1 1932,1970.9 1938.2,1968.1 1938.2,1976.4 1945.1,1976.4 1945.1,1973.6 1951.4,1973.6 1951.4,1976.4 1957.5,1976.4 1957.5,1981.9 1964.3,1981.9 1964.3,1984.6 1977.3,1984.6 1977.3,1990.1 1983.6,1990.1 1983.6,1987.4 1989.9,1987.4 1989.9,1973.6 1996.5,1973.6 1996.5,1990.1 2002.8,1990.1 2002.8,1992.9 2009.1,1992.9 2009.1,1987.4 2028.4,1987.4 2028.4,1981.9 2034.9,1981.9 2034.9,1984.6 2047.6,1984.6 2047.6,1979.1 2054.2,1979.1 2054.2,1990.1 2060.5,1990.1 2060.5,1992.9 2073.4,1992.9 2073.4,1995.6 2079.7,1995.6 2079.7,1990.1 2086,1990.1 2086,1992.9 2092.6,1992.9 2092.6,1998.4 2105.3,1998.4 2105.3,1995.6 2111.9,1995.6 2111.9,2003.8 2118.2,2003.8 2118.2,2009.3 2124.5,2009.3 2124.5,1998.4 2131.1,1998.4 2131.1,2003.8 2137.4,2003.8 2137.4,2001.6 2150.3,2001.6 2150.3,2009.3 2156.6,2009.3 2156.6,2014.8 2169.6,2014.8 2169.6,2012.1 2175.9,2012.1 2175.9,2014.8 2195.1,2014.8 2195.1,2012.1 2201.4,2012.1 2201.4,1998.4 2208,1998.4 2208,2020.9 2227.3,2020.9 2227.3,2012.1 2233.6,2012.1 2233.6,2023.6 2239.9,2023.6 2239.9,2026.4 2252.8,2026.4 2252.8,2020.9 2259.1,2020.9 2259.1,2007.1 2265.7,2007.1 2265.7,2015.4 2272,2015.4 2272,2023.6 2278.4,2023.6 2278.4,2031.9 2284.9,2031.9 2284.9,2026.4 2297.6,2026.4 2297.6,2020.9 2304.2,2020.9 2304.2,2015.4 2310.5,2015.4 2310.5,2029.1 2316.8,2029.1 2316.8,2040.1 2323.4,2040.1 2323.4,2037.4 2329.7,2037.4 2329.7,2040.1 2336,2040.1 2336,2031.9 2342.6,2031.9 2342.6,2029.1 2349,2029.1 2349,2031.9 2361.9,2031.9 2361.9,2037.4 2368.2,2037.4 2368.2,2031.9 2374.5,2031.9 2374.5,2034.6 2381.1,2034.6 2381.1,2051.1 2387.4,2051.1 2387.4,2053.8 2393.7,2053.8 2393.7,2031.9 2400.3,2031.9 2400.3,2037.4 2406.6,2037.4 2406.6,2029.1 2413,2029.1 2413,2026.4 2419.6,2026.4 2419.6,2042.9 2425.9,2042.9 2425.9,2037.4 2432.2,2037.4 2432.2,2051.1 2438.8,2051.1 2438.8,2042.9 2445.1,2042.9 2445.1,2048.4 2451.4,2048.4 2451.4,2040.1 2458,2040.1 2458,2037.4 2464.3,2037.4 2464.3,2040.1 2470.7,2040.1 2470.7,2051.1 2477.3,2051.1 2477.3,2040.1 2483.6,2040.1 2483.6,2057.1 2489.9,2057.1 2489.9,2037.4 2496.5,2037.4 2496.5,2048.4 2511,2048.4" fill="none" stroke="#FF0000" stroke-width="1.1" opacity="0.8"/>
<polyline points="186.5,2226.9 187.9,2226.9 187.9,2221.4 194.2,2221.4 194.2,2234.6 200.8,2234.6 200.8,2232.4 207.1,2232.4 207.1,2265.9 214,2265.9 214,2288.7 220.3,2288.7 220.3,2302.5 226.9,2302.5 226.9,2277.7 233.2,2277.7 233.2,2249.5 240.1,2249.5 240.1,2246.7 246.4,2246.7 246.4,2249.5 252.4,2249.5 252.4,2244 258.7,2244 258.7,2254.9 265.3,2254.9 265.3,2249.5 271.6,2249.5 271.6,2252.2 278.5,2252.2 278.5,2241.2 284.6,2241.2 284.6,2224.7 290.9,2224.7 290.9,2233 297.2,2233 297.2,2260.4 303.8,2260.4 303.8,2219.2 310.1,2219.2 310.1,2241.2 316.4,2241.2 316.4,2238.5 323,2238.5 323,2213.2 329.3,2213.2 329.3,2221.4 335.7,2221.4 335.7,2224.2 342.3,2224.2 342.3,2221.4 348.6,2221.4 348.6,2218.7 354.9,2218.7 354.9,2213.2 361.5,2213.2 361.5,2215.9 367.8,2215.9 367.8,2224.2 374.1,2224.2 374.1,2213.2 380.7,2213.2 380.7,2218.7 387,2218.7 387,2226.9 393.4,2226.9 393.4,2274.2 406.3,2274.2 406.3,2224.2 412.6,2224.2 412.6,2207.7 419.2,2207.7 419.2,2260.4 431.8,2260.4 431.8,2210.4 438.4,2210.4 438.4,2218.7 444.7,2218.7 444.7,2213.2 451,2213.2 451,2210.4 457.6,2210.4 457.6,2218.7 464,2218.7 464,2213.2 470.3,2213.2 470.3,2210.4 476.9,2210.4 476.9,2215.9 483.2,2215.9 483.2,2207.7 496.1,2207.7 496.1,2202.2 515.3,2202.2 515.3,2210.4 521.6,2210.4 521.6,2215.9 528,2215.9 528,2221.4 534.6,2221.4 534.6,2215.9 540.9,2215.9 540.9,2210.4 553.8,2210.4 553.8,2183 560.1,2183 560.1,2185.7 566.4,2185.7 566.4,2210.4 573,2210.4 573,2204.9 579.3,2204.9 579.3,2221.4 592.3,2221.4 592.3,2215.9 598.6,2215.9 598.6,2207.7 604.9,2207.7 604.9,2202.2 617.8,2202.2 617.8,2199.5 624.1,2199.5 624.1,2196.7 630.7,2196.7 630.7,2194 637,2194 637,2210.4 643.4,2210.4 643.4,2188.5 649.9,2188.5 649.9,2202.2 656.3,2202.2 656.3,2215.9 662.6,2215.9 662.6,2202.2 669.2,2202.2 669.2,2191.2 681.8,2191.2 681.8,2194 688.4,2194 688.4,2185.7 701,2185.7 701,2182.4 714,2182.4 714,2187.9 733.2,2187.9 733.2,2180.2 739.5,2180.2 739.5,2183 746.1,2183 746.1,2185.7 752.4,2185.7 752.4,2198.9 758.7,2198.9 758.7,2187.9 771,2188.5 771,2185.7 777.9,2185.7 777.9,2183 784.7,2183 784.7,2180.2 797.1,2180.2 797.1,2174.2 810,2174.2 810,2185.7 816.3,2185.7 816.3,2182.4 823.2,2182.4 823.2,2168.7 830.1,2168.7 830.1,2165.9 842.4,2165.9 842.4,2180.2 854.8,2180.2 854.8,2168.7 861.6,2168.7 861.6,2163.2 868,2163.2 868,2168.7 874,2168.7 874,2176.9 880.9,2176.9 880.9,2172 887.2,2172 887.2,2169.2 893.8,2169.2 893.8,2163.7 900.1,2163.7 900.1,2165.9 906.4,2165.9 906.4,2171.4 913,2171.4 913,2165.9 919.3,2165.9 919.3,2160.4 925.7,2160.4 925.7,2157.7 938.6,2157.7 938.6,2163.2 944.9,2163.2 944.9,2154.9 951.5,2154.9 951.5,2163.2 957.8,2163.2 957.8,2160.4 964.1,2160.4 964.1,2176.9 970.7,2176.9 970.7,2163.2 977,2163.2 977,2157.7 983.4,2157.7 983.4,2149.5 989.4,2149.5 989.4,2157.7 996.3,2157.7 996.3,2160.4 1002.6,2160.4 1002.6,2149.5 1009.2,2149.5 1009.2,2152.2 1015.5,2152.2 1015.5,2149.5 1021.8,2149.5 1021.8,2152.2 1027.9,2152.2 1027.9,2144 1040.8,2144 1040.8,2152.2 1054,2152.2 1054,2138.5 1060.3,2138.5 1060.3,2146.2 1066.3,2146.2 1066.3,2144 1073.2,2144 1073.2,2157.1 1079.5,2157.1 1079.5,2148.9 1086.1,2148.9 1086.1,2146.2 1092.4,2146.2 1092.4,2144 1105.3,2144 1105.3,2140.7 1118,2140.7 1118,2135.2 1124.6,2135.2 1124.6,2132.4 1130.9,2132.4 1130.9,2137.9 1137.2,2137.9 1137.2,2129.7 1143.8,2129.7 1143.8,2132.4 1156.4,2132.4 1156.4,2126.9 1163,2126.9 1163,2129.1 1169.3,2129.1 1169.3,2126.9 1175.7,2126.9 1175.7,2135.2 1182.3,2135.2 1182.3,2126.9 1188.6,2126.9 1188.6,2118.7 1194.9,2118.7 1194.9,2115.9 1201.5,2115.9 1201.5,2123.6 1214.1,2123.6 1214.1,2129.7 1220.7,2129.7 1220.7,2118.7 1233.4,2118.7 1233.4,2115.9 1246.3,2115.9 1246.3,2126.9 1252.6,2126.9 1252.6,2129.7 1259.2,2129.7 1259.2,2124.2 1265.5,2124.2 1265.5,2110.4 1278.4,2110.4 1278.4,2118.7 1284.7,2118.7 1284.7,2110.4 1291,2110.4 1291,2107.7 1297.6,2107.7 1297.6,2113.2 1304,2113.2 1304,2121.4 1310.3,2121.4 1310.3,2126.9 1316.9,2126.9 1316.9,2107.7 1329.5,2107.7 1329.5,2104.4 1336.1,2104.4 1336.1,2094 1342.4,2094 1342.4,2098.9 1348.7,2098.9 1348.7,2096.7 1355.1,2096.4 1355.1,2099.2 1361.4,2099.2 1361.4,2101.9 1367.5,2101.9 1367.5,2096.4 1374.3,2096.4 1374.3,2107.4 1380.7,2107.4 1380.7,2101.9 1387.3,2101.9 1387.3,2123.9 1393.6,2123.9 1393.6,2099.2 1399.9,2099.2 1399.9,2096.4 1406.5,2096.4 1406.5,2093.7 1412.8,2093.7 1412.8,2088.2 1419.1,2088.2 1419.1,2093.7 1425.7,2093.7 1425.7,2090.9 1432,2090.9 1432,2085.4 1438.4,2085.4 1438.4,2093.7 1444.9,2093.7 1444.9,2085.4 1451.3,2085.4 1451.3,2088.2 1457.6,2088.2 1457.6,2085.4 1470.5,2085.4 1470.5,2090.9 1482.9,2090.9 1482.9,2096.4 1489.7,2096.4 1489.7,2101.9 1496,2101.9 1496,2107.4 1502.6,2107.4 1502.6,2093.7 1509,2093.7 1509,2090.9 1521.9,2090.9 1521.9,2088.2 1534.5,2088.2 1534.5,2082.7 1541.1,2082.7 1541.1,2079.9 1547.4,2079.9 1547.4,2093.7 1553.7,2093.7 1553.7,2088.2 1566.6,2088.2 1566.6,2082.7 1573,2082.7 1573,2093.7 1579.6,2093.7 1579.6,2096.4 1585.9,2096.4 1585.9,2090.9 1598.8,2090.9 1598.8,2093.7 1605.1,2093.7 1605.1,2082.7 1611.4,2082.7 1611.4,2099.2 1618,2099.2 1618,2088.2 1624.3,2088.2 1624.3,2101.9 1630.7,2101.9 1630.7,2093.7 1643.6,2093.7 1643.6,2099.2 1662.8,2099.2 1662.8,2093.7 1669.1,2093.7 1669.1,2099.2 1675.7,2099.2 1675.7,2101.9 1682,2101.9 1682,2099.2 1688.4,2099.2 1688.4,2096.4 1694.9,2096.4 1694.9,2118.4 1701.3,2118.4 1701.3,2104.7 1707.6,2104.7 1707.6,2107.4 1714.2,2107.4 1714.2,2096.4 1720.5,2096.4 1720.5,2110.2 1726.8,2110.2 1726.8,2107.4 1733.4,2107.4 1733.4,2096.4 1739.7,2096.4 1739.7,2101.9 1746,2101.9 1746,2107.4 1752.6,2107.4 1752.6,2104.7 1759,2104.7 1759,2110.2 1765.3,2110.2 1765.3,2135.4 1771.9,2135.4 1771.9,2132.7 1778.2,2132.7 1778.2,2112.9 1784.5,2112.9 1784.5,2121.2 1791.1,2121.2 1791.1,2112.9 1803.7,2112.9 1803.7,2129.4 1810.3,2129.4 1810.3,2123.9 1816.6,2123.9 1816.6,2121.2 1823,2121.2 1823,2115.7 1829.6,2115.7 1829.6,2123.9 1835.9,2123.9 1835.9,2121.2 1842.2,2121.2 1842.2,2135.4 1855.1,2135.4 1855.1,2140.9 1861.4,2140.9 1861.4,2143.7 1868,2143.7 1868,2140.9 1874.3,2140.9 1874.3,2138.2 1900.4,2138.2 1900.4,2140.9 1919.7,2140.9 1919.7,2143.7 1932.6,2143.7 1932.6,2138.2 1938.2,2138.5 1938.2,2145.9 1945.1,2145.9 1945.1,2151.4 1951.4,2151.4 1951.4,2149.2 1957.5,2149.2 1957.5,2151.9 1964.3,2151.9 1964.3,2154.7 1970.7,2154.7 1970.7,2151.9 1983.6,2151.9 1983.6,2160.2 1996.5,2160.2 1996.5,2171.2 2002.8,2171.2 2002.8,2157.4 2015.7,2157.4 2015.7,2162.9 2028.4,2162.9 2028.4,2154.7 2034.9,2154.7 2034.9,2160.2 2041.3,2160.2 2041.3,2171.2 2054.2,2171.2 2054.2,2168.4 2060.5,2168.4 2060.5,2176.6 2066.8,2176.6 2066.8,2171.2 2079.7,2171.2 2079.7,2168.4 2086,2168.4 2086,2179.4 2092.6,2179.4 2092.6,2176.6 2099,2176.6 2099,2173.9 2105.3,2173.9 2105.3,2176.6 2111.9,2176.6 2111.9,2182.1 2118.2,2182.1 2118.2,2179.4 2131.1,2179.4 2131.1,2193.1 2137.4,2193.1 2137.4,2195.9 2150.3,2195.9 2150.3,2187.6 2156.6,2187.6 2156.6,2184.9 2163,2184.9 2163,2176.6 2169.6,2176.6 2169.6,2182.1 2175.9,2182.1 2175.9,2190.4 2182.2,2190.4 2182.2,2184.9 2188.8,2184.9 2188.8,2182.1 2195.1,2182.1 2195.1,2184.3 2201.4,2184.3 2201.4,2182.1 2208,2182.1 2208,2204.1 2214.3,2204.1 2214.3,2207.7 2220.7,2207.7 2220.7,2198.6 2227.3,2198.6 2227.3,2190.4 2233.6,2190.4 2233.6,2193.1 2239.9,2193.1 2239.9,2201.4 2252.8,2201.4 2252.8,2204.1 2259.1,2204.1 2259.1,2207.7 2265.7,2207.7 2265.7,2195.9 2272,2195.9 2272,2204.1 2278.4,2204.1 2278.4,2198.6 2291.3,2198.6 2291.3,2204.1 2297.6,2204.1 2297.6,2209.6 2304.2,2209.6 2304.2,2204.1 2310.5,2204.1 2310.5,2271.4 2316.8,2271.4 2316.8,2274.2 2323.4,2274.2 2323.4,2246.7 2329.7,2246.7 2329.7,2224.2 2336,2224.2 2336,2212.4 2342.6,2212.4 2342.6,2209.6 2349,2209.6 2349,2212.4 2361.9,2212.4 2361.9,2235.2 2368.2,2235.2 2368.2,2232.4 2374.5,2232.4 2374.5,2217.9 2381.1,2217.9 2381.1,2229.7 2387.4,2229.7 2387.4,2212.4 2393.7,2212.4 2393.7,2218.7 2400.3,2218.7 2400.3,2226.9 2406.6,2226.9 2406.6,2218.7 2413,2218.7 2413,2215.9 2419.6,2215.9 2419.6,2221.4 2425.9,2221.4 2425.9,2224.2 2445.1,2224.2 2445.1,2220.6 2451.4,2220.6 2451.4,2224.2 2458,2224.2 2458,2217.9 2464.3,2217.9 2464.3,2215.9 2470.7,2215.9 2470.7,2240.7 2477.3,2240.7 2477.3,2246.7 2489.9,2246.7 2489.9,2224.2 2496.5,2224.2 2496.5,2226.9 2511,2226.9" fill="none" stroke="#0000FF" stroke-width="1.1" opacity="0.8"/>
<line x1="182" y1="2143.8" x2="2515" y2="2143.8" stroke="#104E8B" stroke-width="4.5" stroke-dasharray="17.8 17.8"/>
<polyline points="186.5,2103.8 197.5,2101.9 211.2,2095.1 220.8,2097.3 238.7,2089.6 246.9,2090.9 257.9,2089 264.8,2090.1 271.6,2088.2 282.6,2087.6 292.3,2086.3 310.1,2086.8 317,2087.6 328,2084.6 341.7,2079.4 351.3,2080.8 362.3,2078.6 373.3,2076.4 392.5,2082.1 402.1,2078 409,2079.1 422.7,2075.8 436.5,2070.9 444.7,2071.7 450.2,2073.9 458.5,2071.2 472.2,2069.8 488.7,2064.8 502.4,2063.5 509.3,2069.5 521.6,2067.6 535.4,2064 547.7,2064.3 553.2,2062.1 559.6,2056 565.6,2061.5 572.5,2059.9 579.3,2062.6 584.8,2061.5 594.5,2057.4 599.9,2056 605.4,2051.9 612.3,2053.8 623.3,2051.9 634.3,2052.5 642.5,2051.1 650.8,2049.2 659,2049.2 664.5,2047 670,2043.4 675.5,2041.5 682.4,2047 687.9,2049.7 701.6,2038.2 708.5,2037.4 719.5,2038.2 726.3,2037.4 741.4,2044.2 748.3,2045.1 756.5,2040.1 764.8,2035.2 765.5,2034.1 776.5,2038.7 787.5,2036.5 801.2,2029.1 809.5,2031 821.8,2026.4 835.5,2033.8 853.4,2025.5 864.4,2023.1 885,2024.2 894.6,2020.1 912.5,2018.7 924.8,2023.6 938.6,2019 952.3,2018.7 970.2,2018.1 983.9,2011.3 993.5,2010.4 1007.3,2008 1023.7,2006 1040.2,2003.6 1056.7,2002.2 1073.2,1999.5 1082.8,2000.8 1093.8,1997 1114.4,1998.4 1133.6,1993.4 1148.7,1992.6 1158.4,1987.9 1174.8,1986.5 1191.3,1981.9 1200.9,1980.2 1213.3,1984.3 1232.5,1977.7 1243.5,1978.8 1254.5,1975.5 1268.2,1973.6 1279.2,1970.9 1293,1969.5 1306.7,1969.2 1320.4,1970.1 1331.4,1968.1 1347.9,1970.1 1351,1970.1 1360.6,1968.7 1374.3,1972.8 1386.7,1970.6 1405.9,1970.6 1425.2,1972 1437.5,1969.2 1445.8,1972.3 1455.4,1972.8 1466.4,1971.4 1482.9,1972 1502.1,1972.8 1511.7,1975.5 1521.3,1973.6 1535.1,1976.1 1548.8,1975.5 1559.8,1976.4 1573.5,1975.5 1581.8,1976.4 1585.9,1974.2 1595.5,1976.1 1603.7,1975 1625.7,1977.7 1638.1,1981 1650.4,1978.8 1661.4,1978.8 1680.7,1981 1699.9,1983.2 1719.1,1981 1738.4,1981.6 1752.1,1985.2 1759,1983.2 1772.7,1988.5 1785.1,1986 1801.5,1988.5 1815.3,1993.4 1834.5,1997.5 1842.7,1998.1 1848.2,1996.2 1855.1,1999.5 1862,1997.5 1875.7,2000.8 1886.7,2005.8 1894.9,2002.5 1903.2,2003.8 1919.7,2002.5 1930.7,2004.4 1943.7,2007.1 1950.6,2005.8 1965.7,2014 1976.7,2012.6 1984.9,2018.7 2009.7,2018.1 2023.4,2020.9 2048.1,2027.7 2064.6,2028.3 2074.2,2035.2 2086.6,2031.9 2099,2033.8 2112.7,2042 2123.7,2042 2136,2045.6 2152.5,2048.9 2166.3,2048.4 2177.3,2049.7 2186.9,2048.4 2202,2049.7 2215.7,2059.3 2226.7,2060.7 2234.9,2064.8 2265.2,2064 2284.4,2072.3 2295.4,2070.9 2310.5,2082.7 2317.4,2081.9 2323.4,2084.6 2336.6,2079.1 2349,2077.2 2361.3,2083.5 2369.6,2081.3 2383.3,2086.8 2394.3,2088.2 2399.8,2086.8 2406.6,2089.6 2414.9,2089.6 2427.3,2093.7 2441,2090.9 2457.5,2091.8 2479.5,2095.9 2495.9,2094.2 2511.9,2095.9" fill="none" stroke="#FF0000" stroke-width="4.6" stroke-linejoin="round"/>
<polyline points="186.5,2188.5 197.5,2191.8 203,2191.8 218.1,2186.3 231.8,2188.5 240.1,2183 252.4,2185.2 266.2,2185.7 271.6,2188.5 285.4,2181.6 290.9,2180.2 297.7,2183 304.6,2178.8 318.4,2179.7 326.6,2182.4 334.8,2181.6 348.6,2178.8 362.3,2180.2 370.5,2178 378.8,2172.5 389.8,2177.5 398,2180.2 403.5,2176.9 411.8,2179.7 422.7,2176.1 431,2174.2 437.9,2170.6 444.7,2173.4 455.7,2170.6 465.3,2165.9 472.2,2167 488.7,2165.9 502.4,2164.3 513.4,2167.9 524.4,2170.6 535.4,2169.2 546.4,2165.1 554.6,2162.4 560.1,2159.6 568.4,2163.7 579.3,2165.1 590.3,2163.7 601.3,2161 615.1,2158.2 626,2152.2 637,2154.1 648,2155.5 664.5,2155.5 672.7,2153.3 683.7,2151.4 694.7,2150 705.7,2144.5 719.5,2146.7 733.2,2141.8 744.2,2142.3 752.4,2147.8 760.7,2144.5 766.9,2142.6 782,2142.6 795.7,2140.4 804,2134.9 809.5,2137.1 816.3,2135.7 821.8,2136.8 834.2,2134.1 847.9,2137.6 864.4,2131.6 872.6,2130.8 880.9,2128 889.1,2132.1 900.1,2127.5 913.8,2125.8 924.8,2124.5 935.8,2125.3 949.6,2121.4 957.8,2117 970.2,2123.1 982.5,2116.2 993.5,2115.7 1008.6,2117.6 1016.9,2111.5 1027.9,2112.4 1043,2105.5 1052.6,2108 1064.9,2106 1075.9,2101.9 1092.4,2104.7 1106.2,2101.1 1122.6,2101.1 1133.6,2097.8 1155.6,2097 1169.3,2092.3 1177.6,2091.5 1188.6,2088.2 1195.4,2088.7 1200.9,2086.3 1210.5,2089.6 1221.5,2089 1232.5,2084.6 1251.8,2084.6 1262.7,2081.3 1273.7,2078.6 1284.7,2079.4 1295.7,2077.2 1309.5,2073.6 1325.9,2072.3 1335.5,2067.6 1342.4,2069.8 1351,2069 1362,2068.4 1384,2065.7 1403.2,2062.6 1419.7,2063.5 1436.2,2062.6 1447.1,2060.7 1460.9,2060.7 1470.5,2062.1 1476,2060.2 1485.6,2063.5 1499.3,2064 1509,2061.3 1519.9,2064 1529.6,2062.6 1537.8,2063.5 1540.5,2061.5 1548.8,2064 1559.8,2062.1 1579,2063.5 1592.7,2066.8 1598.2,2066.2 1605.1,2064 1612,2066.8 1628.5,2066.8 1643.6,2070.9 1655.9,2070.3 1669.7,2068.1 1675.2,2069.5 1682,2067.6 1688.9,2071.7 1694.4,2072.3 1701.3,2074.5 1713.6,2073.1 1724.6,2075.8 1730.1,2075.3 1733.4,2073.1 1738.4,2075.3 1746.6,2076.4 1757.6,2079.9 1764.5,2079.4 1782.3,2082.1 1790.5,2081.3 1796,2082.7 1804.3,2082.1 1809.8,2084.1 1816.6,2084.1 1823.5,2089 1842.7,2095.1 1853.7,2094.2 1863.4,2097.3 1867.5,2097.3 1874.3,2100 1886.7,2097.3 1894.9,2102.5 1900.4,2104.7 1916.9,2106 1930.7,2109.6 1950.6,2112.1 1957.5,2111.5 1971.2,2115.7 1984.9,2121.7 1998.7,2123.9 2015.2,2125.8 2023.4,2128.6 2039.9,2128.6 2048.1,2132.7 2061.9,2134.1 2070.1,2134.3 2079.7,2136.3 2085.2,2135.4 2093.5,2138.5 2103.1,2138.5 2119.6,2143.7 2126.4,2145.3 2138.8,2144.5 2149.8,2150 2163.5,2150.5 2170.4,2152.7 2178.6,2150.5 2185.5,2151.9 2195.1,2158.2 2202,2155.5 2213,2158.2 2219.8,2156.3 2234.9,2162.9 2245.9,2165.7 2252.8,2165.9 2259.7,2169.2 2266.5,2166.5 2273.4,2167.9 2278.4,2164.6 2284.4,2168.7 2298.1,2167 2303.6,2169.2 2310.5,2178.8 2325.6,2177.5 2331.1,2178.3 2342.1,2174.2 2349,2177.5 2355.3,2174.2 2361.3,2180.2 2366.8,2176.6 2372.3,2176.6 2380.5,2179.7 2394.3,2180.2 2402.5,2179.4 2413.5,2182.4 2424.5,2185.7 2431.4,2185.2 2441,2182.1 2454.7,2182.4 2464.3,2180.2 2471.2,2181 2482.2,2184.3 2491.8,2182.4 2511.9,2182.4" fill="none" stroke="#0000FF" stroke-width="4.6" stroke-linejoin="round"/>
<polygon points="1392,1948.6 1399.6,1941 1407.2,1948.6 1399.6,1956.2" fill="#FF0000"/>
<polygon points="1398.3,1945.3 1405.9,1937.7 1413.5,1945.3 1405.9,1952.9" fill="#FF0000"/>
<polygon points="1405.2,1945.3 1412.8,1937.7 1420.4,1945.3 1412.8,1952.9" fill="#FF0000"/>
<polygon points="552.5,2180.2 560.1,2172.6 567.7,2180.2 560.1,2187.8" fill="#0000FF"/>
<polygon points="546.2,2215.9 553.8,2208.3 561.4,2215.9 553.8,2223.5" fill="#0000FF"/>
<polygon points="1462.9,2081.3 1470.5,2073.7 1478.1,2081.3 1470.5,2088.9" fill="#0000FF"/>
<polygon points="1469.8,2089.6 1477.4,2082 1485,2089.6 1477.4,2097.2" fill="#0000FF"/>
<polygon points="1507.7,2084.6 1515.3,2077 1522.9,2084.6 1515.3,2092.2" fill="#0000FF"/>
<polygon points="2059.2,2162.9 2066.8,2155.3 2074.4,2162.9 2066.8,2170.5" fill="#0000FF"/>
<text x="216.2" y="1950.8" font-size="35.7">Daily Min/Max Temps</text>
<text x="226.4" y="2174.7" font-size="35.25" fill="#104E8B">Freeze Days: 137 (Avg:148)</text>
<text x="2494.6" y="1950.8" font-size="35.7" text-anchor="end" fill="#FF0000">3</text>
<text x="2494.6" y="2280.5" font-size="35.7" text-anchor="end" fill="#0000FF">6</text>
</g>
</g>
<line x1="170.5" y1="2233" x2="182" y2="2233" stroke="#333333" stroke-width="4.4"/>
<text x="160.2" y="2246.1" font-size="36.67" text-anchor="end" fill="#4D4D4D">0</text>
<line x1="170.5" y1="2121.5" x2="182" y2="2121.5" stroke="#333333" stroke-width="4.4"/>
<text x="160.2" y="2134.6" font-size="36.67" text-anchor="end" fill="#4D4D4D">40</text>
<line x1="170.5" y1="2010" x2="182" y2="2010" stroke="#333333" stroke-width="4.4"/>
<text x="160.2" y="2023.1" font-size="36.67" text-anchor="end" fill="#4D4D4D">80</text>
<line x1="182" y1="2321.7" x2="182" y2="2333.2" stroke="#333333" stroke-width="4.4"/>
<text x="182" y="2369" font-size="36.67" text-anchor="middle" fill="#4D4D4D">Jan</text>
<line x1="380.7" y1="2321.7" x2="380.7" y2="2333.2" stroke="#333333" stroke-width="4.4"/>
<text x="380.7" y="2369" font-size="36.67" text-anchor="middle" fill="#4D4D4D">Feb</text>
<line x1="560.2" y1="2321.7" x2="560.2" y2="2333.2" stroke="#333333" stroke-width="4.4"/>
<text x="560.2" y="2369" font-size="36.67" text-anchor="middle" fill="#4D4D4D">Mar</text>
<line x1="759" y1="2321.7" x2="759" y2="2333.2" stroke="#333333" stroke-width="4.4"/>
<text x="759" y="2369" font-size="36.67" text-anchor="middle" fill="#4D4D4D">Apr</text>
<line x1="951.3" y1="2321.7" x2="951.3" y2="2333.2" stroke="#333333" stroke-width="4.4"/>
<text x="951.3" y="2369" font-size="36.67" text-anchor="middle" fill="#4D4D4D">May</text>
<line x1="1150.1" y1="2321.7" x2="1150.1" y2="2333.2" stroke="#333333" stroke-width="4.4"/>
<text x="1150.1" y="2369" font-size="36.67" text-anchor="middle" fill="#4D4D4D">Jun</text>
<line x1="1342.4" y1="2321.7" x2="1342.4" y2="2333.2" stroke="#333333" stroke-width="4.4"/>
<text x="1342.4" y="2369" font-size="36.67" text-anchor="middle" fill="#4D4D4D">Jul</text>
<line x1="1541.1" y1="2321.7" x2="1541.1" y2="2333.2" stroke="#333333" stroke-width="4.4"/>
<text x="1541.1" y="2369" font-size="36.67" text-anchor="middle" fill="#4D4D4D">Aug</text>
<line x1="1739.9" y1="2321.7" x2="1739.9" y2="2333.2" stroke="#333333" stroke-width="4.4"/>
<text x="1739.9" y="2369" font-size="36.67" text-anchor="middle" fill="#4D4D4D">Sep</text>
<line x1="1932.2" y1="2321.7" x2="1932.2" y2="2333.2" stroke="#333333" stroke-width="4.4"/>
<text x="1932.2" y="2369" font-size="36.67" text-anchor="middle" fill="#4D4D4D">Oct</text>
<line x1="2130.9" y1="2321.7" x2="2130.9" y2="2333.2" stroke="#333333" stroke-width="4.4"/>
<text x="2130.9" y="2369" font-size="36.67" text-anchor="middle" fill="#4D4D4D">Nov</text>
<line x1="2323.3" y1="2321.7" x2="2323.3" y2="2333.2" stroke="#333333" stroke-width="4.4"/>
<text x="2323.3" y="2369" font-size="36.67" text-anchor="middle" fill="#4D4D4D">Dec</text>
<rect x="184.2" y="1915.4" width="2329.2" height="404" fill="none" stroke="#000" stroke-width="4.45"/>
<text transform="translate(56,2117) rotate(-90)" font-size="45.83" text-anchor="middle">deg F</text>
<g id="rightcol">
<rect x="2573.8" y="166.1" width="702.5" height="485.4" fill="#FFFFFF" stroke="#333333" stroke-width="2"/>
<text x="2606" y="235.7" font-size="41.25" font-weight="bold">LOS LUNAS 3 SSW</text>
<text x="2606" y="313" font-size="41.67">Elevation (ft): 4840</text>
<text x="2606" y="368.6" font-size="41.67">Period of record: 1958-2020</text>
<text x="2606" y="424.3" font-size="41.67">Years in record: 63</text>
<text x="2606" y="479.3" font-size="41.67">Precip rank: 54 (1-wettest)</text>
<text x="2606" y="535" font-size="41.67">Temp rank: 33 (1-warmest)</text>
<text x="2606" y="590" font-size="41.67">Missing in 1958: 0</text>
<text x="2606" y="645.3" font-size="41.67">Total snow (in): 1.5 (36 % avg)</text>
<g id="map">
<clipPath id="mc"><rect x="2777.9" y="697.3" width="288.1" height="153.1"/></clipPath>
<rect x="2777.9" y="697.3" width="288.1" height="153.1" fill="#FFFFFF"/>
<g clip-path="url(#mc)">
<line x1="2790.7" y1="697.3" x2="2790.7" y2="850.4" stroke="#EBEBEB" stroke-width="1.2"/>
<line x1="2817.5" y1="697.3" x2="2817.5" y2="850.4" stroke="#EBEBEB" stroke-width="1.2"/>
<line x1="2844.7" y1="697.3" x2="2844.7" y2="850.4" stroke="#EBEBEB" stroke-width="1.2"/>
<line x1="2871.4" y1="697.3" x2="2871.4" y2="850.4" stroke="#EBEBEB" stroke-width="1.2"/>
<line x1="2898.2" y1="697.3" x2="2898.2" y2="850.4" stroke="#EBEBEB" stroke-width="1.2"/>
<line x1="2925" y1="697.3" x2="2925" y2="850.4" stroke="#EBEBEB" stroke-width="1.2"/>
<line x1="2951.8" y1="697.3" x2="2951.8" y2="850.4" stroke="#EBEBEB" stroke-width="1.2"/>
<line x1="2978.6" y1="697.3" x2="2978.6" y2="850.4" stroke="#EBEBEB" stroke-width="1.2"/>
<line x1="3005.4" y1="697.3" x2="3005.4" y2="850.4" stroke="#EBEBEB" stroke-width="1.2"/>
<line x1="3032.2" y1="697.3" x2="3032.2" y2="850.4" stroke="#EBEBEB" stroke-width="1.2"/>
<line x1="3059" y1="697.3" x2="3059" y2="850.4" stroke="#EBEBEB" stroke-width="1.2"/>
<line x1="2777.9" y1="822.2" x2="3066" y2="822.2" stroke="#EBEBEB" stroke-width="1.2"/>
<line x1="2777.9" y1="843.4" x2="3066" y2="843.4" stroke="#EBEBEB" stroke-width="1.2"/>
<line x1="2777.9" y1="800.9" x2="3066" y2="800.9" stroke="#EBEBEB" stroke-width="1.2"/>
<line x1="2777.9" y1="779.7" x2="3066" y2="779.7" stroke="#EBEBEB" stroke-width="1.2"/>
<line x1="2777.9" y1="758.5" x2="3066" y2="758.5" stroke="#EBEBEB" stroke-width="1.2"/>
<line x1="2777.9" y1="737.3" x2="3066" y2="737.3" stroke="#EBEBEB" stroke-width="1.2"/>
<line x1="2777.9" y1="716" x2="3066" y2="716" stroke="#EBEBEB" stroke-width="1.2"/>
<polygon points="2776.2,695 3068.8,695 3068.8,853.7 3005,851.6 2996.7,847.9 2986.4,837.6 2980.2,835.1 2976.1,827.9 2969.9,826.5 2936.6,826.5 2936.6,835.8 2874.1,835.8 2794.8,811.5 2794.8,806.7 2776.2,807.9" fill="#D4D4D4" stroke="#BDBDBD" stroke-width="3.7" stroke-linejoin="round"/>
<polyline points="2918.8,695 2918.8,835.8" fill="none" stroke="#BDBDBD" stroke-width="3.7" stroke-linejoin="round" stroke-linecap="round"/>
<polyline points="2811.3,714.8 3068.8,714.8" fill="none" stroke="#BDBDBD" stroke-width="3.7" stroke-linejoin="round" stroke-linecap="round"/>
<polyline points="2811.3,695 2811.3,732.1 2808.2,735.8 2803,733.8 2796.8,733.2 2795.4,736.2 2797.9,746.5 2798.9,755.2 2802.6,762.6 2805.5,770.9 2810.2,772.9 2802.4,779.5 2800.4,786.1 2796.8,791.9 2796.4,795.2 2802,802.2 2800.1,806.3 2794.8,807.5 2794.8,811.5" fill="none" stroke="#BDBDBD" stroke-width="3.7" stroke-linejoin="round" stroke-linecap="round"/>
<polyline points="2776.2,739.3 2798.3,756" fill="none" stroke="#BDBDBD" stroke-width="3.7" stroke-linejoin="round" stroke-linecap="round"/>
<polyline points="2969.9,826.5 2969.9,822.8 3047.8,822.2 3047.8,725.5 3048.2,714.8" fill="none" stroke="#BDBDBD" stroke-width="3.7" stroke-linejoin="round" stroke-linecap="round"/>
<polyline points="3047.8,725.5 3068.8,725.5" fill="none" stroke="#BDBDBD" stroke-width="3.7" stroke-linejoin="round" stroke-linecap="round"/>
<circle cx="2967.5" cy="762.6" r="7.4" fill="#FF0000"/>
</g>
<rect x="2777.9" y="697.3" width="288.1" height="153.1" fill="none" stroke="#333333" stroke-width="1.3"/>
</g>
<rect x="2616.5" y="889.5" width="153.1" height="254.3" fill="#FFFFFF"/>
<clipPath id="sb27054"><rect x="2616.5" y="889.5" width="153.1" height="254.3"/></clipPath>
<rect x="2622.8" y="1054.8" width="140.2" height="95" fill="#1E90FF" stroke="#000" stroke-width="4.2" clip-path="url(#sb27054)"/>
<line x1="2616.5" y1="1016.7" x2="2769.6" y2="1016.7" stroke="#FF0000" stroke-width="4.2"/>
<rect x="2618.7" y="891.6" width="148.8" height="250" fill="none" stroke="#000" stroke-width="4.3"/>
<line x1="2604.8" y1="1143.8" x2="2616.5" y2="1143.8" stroke="#333333" stroke-width="4.4"/>
<text x="2594" y="1154.1" font-size="29.2" font-weight="bold" text-anchor="end" fill="#4D4D4D">0</text>
<line x1="2604.8" y1="1072.8" x2="2616.5" y2="1072.8" stroke="#333333" stroke-width="4.4"/>
<text x="2594" y="1083.1" font-size="29.2" font-weight="bold" text-anchor="end" fill="#4D4D4D">5</text>
<line x1="2604.8" y1="1001.8" x2="2616.5" y2="1001.8" stroke="#333333" stroke-width="4.4"/>
<text x="2594" y="1012.1" font-size="29.2" font-weight="bold" text-anchor="end" fill="#4D4D4D">10</text>
<line x1="2604.8" y1="930.6" x2="2616.5" y2="930.6" stroke="#333333" stroke-width="4.4"/>
<text x="2594" y="940.9" font-size="29.2" font-weight="bold" text-anchor="end" fill="#4D4D4D">15</text>
<text x="2692.5" y="926.3" font-size="35.7" text-anchor="middle">6.27 in</text>
<text x="2693.5" y="1193.4" font-size="36.67" text-anchor="middle">Precip</text>
<rect x="2869.9" y="889.5" width="153.1" height="254.3" fill="#FFFFFF"/>
<clipPath id="sb29588"><rect x="2869.9" y="889.5" width="153.1" height="254.3"/></clipPath>
<rect x="2876.2" y="1045.8" width="140.4" height="104" fill="#00FF00" stroke="#000" stroke-width="4.2" clip-path="url(#sb29588)"/>
<line x1="2869.9" y1="1016.7" x2="3023" y2="1016.7" stroke="#FF0000" stroke-width="4.2"/>
<rect x="2872.1" y="891.6" width="148.8" height="250" fill="none" stroke="#000" stroke-width="4.3"/>
<line x1="2858.2" y1="1143.8" x2="2869.9" y2="1143.8" stroke="#333333" stroke-width="4.4"/>
<text x="2848" y="1154.1" font-size="29.2" font-weight="bold" text-anchor="end" fill="#4D4D4D">0</text>
<line x1="2858.2" y1="1079.1" x2="2869.9" y2="1079.1" stroke="#333333" stroke-width="4.4"/>
<text x="2848" y="1089.4" font-size="29.2" font-weight="bold" text-anchor="end" fill="#4D4D4D">25</text>
<line x1="2858.2" y1="1014.6" x2="2869.9" y2="1014.6" stroke="#333333" stroke-width="4.4"/>
<text x="2848" y="1024.9" font-size="29.2" font-weight="bold" text-anchor="end" fill="#4D4D4D">50</text>
<line x1="2858.2" y1="950" x2="2869.9" y2="950" stroke="#333333" stroke-width="4.4"/>
<text x="2848" y="960.3" font-size="29.2" font-weight="bold" text-anchor="end" fill="#4D4D4D">75</text>
<text x="2945.9" y="926.3" font-size="35.7" text-anchor="middle">38 days</text>
<text x="2947" y="1193.4" font-size="36.67" text-anchor="middle">Rain days</text>
<rect x="3132.6" y="889.5" width="143.7" height="254.3" fill="#FFFFFF"/>
<clipPath id="sb32215"><rect x="3132.6" y="889.5" width="143.7" height="254.3"/></clipPath>
<rect x="3138.9" y="1028.3" width="131.1" height="121.5" fill="#FFFF00" stroke="#000" stroke-width="4.2" clip-path="url(#sb32215)"/>
<line x1="3132.6" y1="1016.7" x2="3276.3" y2="1016.7" stroke="#FF0000" stroke-width="4.2"/>
<rect x="3134.8" y="891.6" width="139.4" height="250" fill="none" stroke="#000" stroke-width="4.3"/>
<line x1="3120.9" y1="1143.8" x2="3132.6" y2="1143.8" stroke="#333333" stroke-width="4.4"/>
<text x="3109" y="1154.1" font-size="29.2" font-weight="bold" text-anchor="end" fill="#4D4D4D">0.0</text>
<line x1="3120.9" y1="1073.6" x2="3132.6" y2="1073.6" stroke="#333333" stroke-width="4.4"/>
<text x="3109" y="1083.9" font-size="29.2" font-weight="bold" text-anchor="end" fill="#4D4D4D">0.1</text>
<line x1="3120.9" y1="1003.3" x2="3132.6" y2="1003.3" stroke="#333333" stroke-width="4.4"/>
<text x="3109" y="1013.6" font-size="29.2" font-weight="bold" text-anchor="end" fill="#4D4D4D">0.2</text>
<line x1="3120.9" y1="933" x2="3132.6" y2="933" stroke="#333333" stroke-width="4.4"/>
<text x="3109" y="943.3" font-size="29.2" font-weight="bold" text-anchor="end" fill="#4D4D4D">0.3</text>
<text x="3199.5" y="939.6" font-size="35.7" text-anchor="middle">0.17</text>
<text x="3203.6" y="991.8" font-size="35.7" text-anchor="middle">in/day</text>
<text x="3204.7" y="1193.4" font-size="36.67" text-anchor="middle">Intensity</text>
<g id="events">
<text x="2946.6" y="1272.2" font-size="33.33" text-anchor="middle">Precip Events (days)</text>
<rect x="2616.6" y="1303.5" width="659.7" height="207.4" fill="#FFFFFF"/>
<line x1="2616.6" y1="1468.4" x2="3276.3" y2="1468.4" stroke="#EBEBEB" stroke-width="2.2"/>
<line x1="2616.6" y1="1400" x2="3276.3" y2="1400" stroke="#EBEBEB" stroke-width="2.2"/>
<line x1="2616.6" y1="1331.6" x2="3276.3" y2="1331.6" stroke="#EBEBEB" stroke-width="2.2"/>
<line x1="2616.6" y1="1502.6" x2="3276.3" y2="1502.6" stroke="#EBEBEB" stroke-width="4.4"/>
<line x1="2616.6" y1="1434.2" x2="3276.3" y2="1434.2" stroke="#EBEBEB" stroke-width="4.4"/>
<line x1="2616.6" y1="1365.8" x2="3276.3" y2="1365.8" stroke="#EBEBEB" stroke-width="4.4"/>
<line x1="2739.4" y1="1303.5" x2="2739.4" y2="1510.9" stroke="#EBEBEB" stroke-width="4.4"/>
<line x1="2946.4" y1="1303.5" x2="2946.4" y2="1510.9" stroke="#EBEBEB" stroke-width="4.4"/>
<line x1="3153.2" y1="1303.5" x2="3153.2" y2="1510.9" stroke="#EBEBEB" stroke-width="4.4"/>
<rect x="2647.2" y="1311.1" width="186.2" height="191.5" fill="#00BFFF" stroke="#000" stroke-width="3.6"/>
<rect x="2853.2" y="1338.4" width="186.5" height="164.2" fill="#00B2EE" stroke="#000" stroke-width="3.6"/>
<rect x="3059.9" y="1338.4" width="186.1" height="164.2" fill="#009ACD" stroke="#000" stroke-width="3.6"/>
<text x="2739" y="1350.5" font-size="35.7" text-anchor="middle">&lt;0.05</text>
<text x="2947" y="1378.3" font-size="35.7" text-anchor="middle">0.05-0.17</text>
<text x="3152.8" y="1378.3" font-size="35.7" text-anchor="middle">&gt;0.17</text>
<rect x="2616.6" y="1303.5" width="659.7" height="207.4" fill="none" stroke="#333333" stroke-width="2"/>
<line x1="2604.9" y1="1502.6" x2="2616.6" y2="1502.6" stroke="#333333" stroke-width="4.4"/>
<text x="2594" y="1512.9" font-size="29.2" font-weight="bold" text-anchor="end" fill="#4D4D4D">0</text>
<line x1="2604.9" y1="1434.2" x2="2616.6" y2="1434.2" stroke="#333333" stroke-width="4.4"/>
<text x="2594" y="1444.5" font-size="29.2" font-weight="bold" text-anchor="end" fill="#4D4D4D">5</text>
<line x1="2604.9" y1="1365.8" x2="2616.6" y2="1365.8" stroke="#333333" stroke-width="4.4"/>
<text x="2594" y="1376.1" font-size="29.2" font-weight="bold" text-anchor="end" fill="#4D4D4D">10</text>
<line x1="2739.4" y1="1510.9" x2="2739.4" y2="1522.6" stroke="#333333" stroke-width="4.4"/>
<text x="2739.4" y="1554.8" font-size="29.2" font-weight="bold" text-anchor="middle" fill="#4D4D4D">Light</text>
<line x1="2946.4" y1="1510.9" x2="2946.4" y2="1522.6" stroke="#333333" stroke-width="4.4"/>
<text x="2946.4" y="1554.8" font-size="29.2" font-weight="bold" text-anchor="middle" fill="#4D4D4D">Moderate</text>
<line x1="3153.2" y1="1510.9" x2="3153.2" y2="1522.6" stroke="#333333" stroke-width="4.4"/>
<text x="3153.2" y="1554.8" font-size="29.2" font-weight="bold" text-anchor="middle" fill="#4D4D4D">Heavy</text>
</g>
<rect x="2573.8" y="1607.8" width="702.5" height="213" fill="#FFFFFF" stroke="#333333" stroke-width="2"/>
<text x="2606" y="1657.3" font-size="45.83" font-weight="bold" fill="#A52A2A">Dry Spells</text>
<text x="2606" y="1730.3" font-size="45.83" fill="#A52A2A">Avg length: 6 days (avg: 6)</text>
<text x="2606" y="1780.1" font-size="45.83" fill="#A52A2A">Max length: 40 days (avg: 51)</text>
<rect x="2616.5" y="1879.8" width="153.1" height="438.8" fill="#FFFFFF"/>
<clipPath id="sb28044"><rect x="2616.5" y="1879.8" width="153.1" height="438.8"/></clipPath>
<rect x="2622.8" y="2090.7" width="140.2" height="233.9" fill="#0000FF" stroke="#000" stroke-width="4.2" clip-path="url(#sb28044)"/>
<line x1="2616.5" y1="2098.7" x2="2769.6" y2="2098.7" stroke="#FFA500" stroke-width="4.2"/>
<rect x="2618.7" y="1882" width="148.8" height="434.5" fill="none" stroke="#000" stroke-width="4.3"/>
<line x1="2604.8" y1="1933.1" x2="2616.5" y2="1933.1" stroke="#333333" stroke-width="4.4"/>
<text x="2594" y="1943.4" font-size="29.2" font-weight="bold" text-anchor="end" fill="#4D4D4D">42</text>
<line x1="2604.8" y1="2013.1" x2="2616.5" y2="2013.1" stroke="#333333" stroke-width="4.4"/>
<text x="2594" y="2023.4" font-size="29.2" font-weight="bold" text-anchor="end" fill="#4D4D4D">40</text>
<line x1="2604.8" y1="2093.2" x2="2616.5" y2="2093.2" stroke="#333333" stroke-width="4.4"/>
<text x="2594" y="2103.5" font-size="29.2" font-weight="bold" text-anchor="end" fill="#4D4D4D">38</text>
<line x1="2604.8" y1="2173.2" x2="2616.5" y2="2173.2" stroke="#333333" stroke-width="4.4"/>
<text x="2594" y="2183.5" font-size="29.2" font-weight="bold" text-anchor="end" fill="#4D4D4D">36</text>
<line x1="2604.8" y1="2253.5" x2="2616.5" y2="2253.5" stroke="#333333" stroke-width="4.4"/>
<text x="2594" y="2263.8" font-size="29.2" font-weight="bold" text-anchor="end" fill="#4D4D4D">34</text>
<text x="2692.8" y="1924.4" font-size="35.7" text-anchor="middle">38.1 F</text>
<text x="2693" y="2368.8" font-size="36.67" text-anchor="middle">T-min</text>
<rect x="2869.9" y="1879.8" width="153.1" height="438.8" fill="#FFFFFF"/>
<clipPath id="sb30578"><rect x="2869.9" y="1879.8" width="153.1" height="438.8"/></clipPath>
<rect x="2876.2" y="2089.7" width="140.4" height="234.9" fill="#1E90FF" stroke="#000" stroke-width="4.2" clip-path="url(#sb30578)"/>
<line x1="2869.9" y1="2098.7" x2="3023" y2="2098.7" stroke="#FFA500" stroke-width="4.2"/>
<rect x="2872.1" y="1882" width="148.8" height="434.5" fill="none" stroke="#000" stroke-width="4.3"/>
<line x1="2858.2" y1="1923.7" x2="2869.9" y2="1923.7" stroke="#333333" stroke-width="4.4"/>
<text x="2848" y="1934" font-size="29.2" font-weight="bold" text-anchor="end" fill="#4D4D4D">60</text>
<line x1="2858.2" y1="2003.7" x2="2869.9" y2="2003.7" stroke="#333333" stroke-width="4.4"/>
<text x="2848" y="2014" font-size="29.2" font-weight="bold" text-anchor="end" fill="#4D4D4D">58</text>
<line x1="2858.2" y1="2084.1" x2="2869.9" y2="2084.1" stroke="#333333" stroke-width="4.4"/>
<text x="2848" y="2094.4" font-size="29.2" font-weight="bold" text-anchor="end" fill="#4D4D4D">56</text>
<line x1="2858.2" y1="2164.1" x2="2869.9" y2="2164.1" stroke="#333333" stroke-width="4.4"/>
<text x="2848" y="2174.4" font-size="29.2" font-weight="bold" text-anchor="end" fill="#4D4D4D">54</text>
<line x1="2858.2" y1="2244.2" x2="2869.9" y2="2244.2" stroke="#333333" stroke-width="4.4"/>
<text x="2848" y="2254.5" font-size="29.2" font-weight="bold" text-anchor="end" fill="#4D4D4D">52</text>
<text x="2946.8" y="1924.4" font-size="35.7" text-anchor="middle">55.9 F</text>
<text x="2946.3" y="2368.8" font-size="36.67" text-anchor="middle">T-mean</text>
<rect x="3123.9" y="1879.8" width="152.4" height="438.8" fill="#FFFFFF"/>
<clipPath id="sb33118"><rect x="3123.9" y="1879.8" width="152.4" height="438.8"/></clipPath>
<rect x="3130.2" y="2086.2" width="140" height="238.4" fill="#FF0000" stroke="#000" stroke-width="4.2" clip-path="url(#sb33118)"/>
<line x1="3123.9" y1="2098.7" x2="3276.3" y2="2098.7" stroke="#FFA500" stroke-width="4.2"/>
<rect x="3126.1" y="1882" width="148.1" height="434.5" fill="none" stroke="#000" stroke-width="4.3"/>
<line x1="3112.2" y1="1915.7" x2="3123.9" y2="1915.7" stroke="#333333" stroke-width="4.4"/>
<text x="3101" y="1926" font-size="29.2" font-weight="bold" text-anchor="end" fill="#4D4D4D">78</text>
<line x1="3112.2" y1="1996.1" x2="3123.9" y2="1996.1" stroke="#333333" stroke-width="4.4"/>
<text x="3101" y="2006.4" font-size="29.2" font-weight="bold" text-anchor="end" fill="#4D4D4D">76</text>
<line x1="3112.2" y1="2076.1" x2="3123.9" y2="2076.1" stroke="#333333" stroke-width="4.4"/>
<text x="3101" y="2086.4" font-size="29.2" font-weight="bold" text-anchor="end" fill="#4D4D4D">74</text>
<line x1="3112.2" y1="2156.1" x2="3123.9" y2="2156.1" stroke="#333333" stroke-width="4.4"/>
<text x="3101" y="2166.4" font-size="29.2" font-weight="bold" text-anchor="end" fill="#4D4D4D">72</text>
<line x1="3112.2" y1="2236.2" x2="3123.9" y2="2236.2" stroke="#333333" stroke-width="4.4"/>
<text x="3101" y="2246.5" font-size="29.2" font-weight="bold" text-anchor="end" fill="#4D4D4D">70</text>
<line x1="3112.2" y1="2316.2" x2="3123.9" y2="2316.2" stroke="#333333" stroke-width="4.4"/>
<text x="3101" y="2326.5" font-size="29.2" font-weight="bold" text-anchor="end" fill="#4D4D4D">68</text>
<text x="3200.3" y="1924.4" font-size="35.7" text-anchor="middle">73.8 F</text>
<text x="3199.4" y="2368.8" font-size="36.67" text-anchor="middle">T-max</text>
<text x="2740.7" y="2415.9" font-size="33.33">Data from http://www.rcc-acis.org/</text>
<text x="2740.7" y="2447.6" font-size="33.33">Plot created: 02-19-2021</text>
<text x="2740.7" y="2479.2" font-size="33.33">The University of Arizona</text>
<text x="2740.7" y="2510.9" font-size="33.33">https://cals.arizona.edu/climate/</text>
</g>
<g id="logos">
<g id="climas" transform="translate(160,2380) scale(0.08242)">
<path d="M1080 75H1940C1990 170 1985 330 1905 450C1825 560 1660 640 1545 697L1500 712H1150Z" fill="#7A3E00"/>
<path d="M545 935C620 1010 740 1100 900 1182H1388C1350 1100 1345 990 1380 900C1395 865 1420 830 1442 808H1215V700H900V1000Z" fill="#7A3E00"/>
<circle cx="910" cy="555" r="478" fill="#95A947"/>
<path d="M1120 960C1200 1010 1290 1110 1375 1172C1290 1080 1230 980 1215 860Z" fill="#95A947"/>
<path d="M465 368C300 395 150 450 135 560C140 685 350 775 720 805L745 772C500 742 290 650 280 520C285 452 350 402 465 368Z" fill="#FFC832"/>
<path d="M150 545C170 650 380 735 700 775" stroke="#FFFFFF" stroke-width="9" fill="none"/>
<path d="M545 935C570 920 600 925 640 950C720 1000 800 1045 1000 1052C1035 1048 1025 1032 1000 1034C940 1040 885 1036 850 1024C880 990 1000 985 1165 985L1240 1040L1388 1182H900C740 1100 620 1010 545 935Z" fill="#7A3E00"/>
<circle cx="878" cy="488" r="362" fill="#E36F1E"/>
<path d="M600 790L1150 705L1215 705L1215 860L1120 960L800 1010L560 900Z" fill="#95A947"/>
<path d="M760 705H1150L985 835C900 850 820 800 760 705Z" fill="#E36F1E"/>
<path d="M522 560C540 700 640 820 770 850L985 835L760 705L620 705Z" fill="#E36F1E"/>
<circle cx="892" cy="500" r="228" fill="#FFFFFF"/>
<circle cx="1200" cy="565" r="122" fill="#FFFFFF"/><circle cx="1432" cy="660" r="100" fill="#FFFFFF"/><rect x="850" y="560" width="582" height="143" fill="#FFFFFF"/><rect x="1400" y="660" width="132" height="43" fill="#FFFFFF"/>
<circle cx="860" cy="745" r="19" fill="#FFFFFF"/><circle cx="955" cy="745" r="19" fill="#FFFFFF"/><circle cx="1060" cy="745" r="19" fill="#FFFFFF"/><circle cx="810" cy="790" r="19" fill="#FFFFFF"/><circle cx="910" cy="790" r="19" fill="#FFFFFF"/><circle cx="1010" cy="790" r="19" fill="#FFFFFF"/><circle cx="770" cy="825" r="19" fill="#FFFFFF"/><circle cx="865" cy="825" r="19" fill="#FFFFFF"/><circle cx="965" cy="825" r="19" fill="#FFFFFF"/><circle cx="725" cy="860" r="19" fill="#FFFFFF"/><circle cx="825" cy="860" r="19" fill="#FFFFFF"/><circle cx="925" cy="860" r="19" fill="#FFFFFF"/><circle cx="685" cy="895" r="19" fill="#FFFFFF"/><circle cx="780" cy="895" r="19" fill="#FFFFFF"/><circle cx="880" cy="895" r="19" fill="#FFFFFF"/><circle cx="640" cy="930" r="19" fill="#FFFFFF"/><circle cx="740" cy="930" r="19" fill="#FFFFFF"/><circle cx="840" cy="930" r="19" fill="#FFFFFF"/><circle cx="705" cy="965" r="19" fill="#FFFFFF"/><circle cx="800" cy="965" r="19" fill="#FFFFFF"/><circle cx="775" cy="995" r="19" fill="#FFFFFF"/>
<path d="M1150 716H1530M1110 747H1500M1060 790H1450" stroke="#FFFFFF" stroke-width="16" fill="none"/>
<path d="M1260 716H1520M1240 768H1480" stroke="#B08A6A" stroke-width="9" fill="none"/>
<path d="M1530 722H1800C1860 722 1880 650 1830 632C1790 625 1775 670 1812 682M1500 752H1900C1990 752 2000 670 1950 662C1910 660 1900 700 1935 708M1460 790H1830C1900 795 1960 820 1940 870C1920 905 1860 895 1862 855C1866 830 1900 832 1902 850" stroke="#95A947" stroke-width="15" fill="none" stroke-linecap="round"/>
</g>
<text x="170.6" y="2515.5" style="font-family:'Liberation Serif',serif" font-size="44" font-weight="bold" fill="#7A3E00" textLength="153" lengthAdjust="spacingAndGlyphs">CLIMAS</text>
<text x="170.6" y="2527.3" font-size="9.4" fill="#95A947" textLength="154" lengthAdjust="spacingAndGlyphs">Climate Assessment for the Southwest</text>
<text x="266.4" y="2535.6" font-size="5.4" fill="#E36F1E" textLength="58" lengthAdjust="spacingAndGlyphs">A NOAA RISA TEAM</text>
<defs><linearGradient id="cg" x1="0" y1="0" x2="0" y2="1"><stop offset="0" stop-color="#FBFBFB"/><stop offset="0.45" stop-color="#DCDCDC"/><stop offset="1" stop-color="#9C9C9C"/></linearGradient><linearGradient id="mg" x1="0" y1="0" x2="0" y2="1"><stop offset="0" stop-color="#7A0A2A"/><stop offset="1" stop-color="#6A0F6A"/></linearGradient></defs>
<g id="csap" transform="translate(150,2370) scale(0.18772)">
<path d="M1075 505V345C1075 255 1140 205 1215 205C1260 205 1305 215 1335 238C1350 150 1420 97 1510 97C1610 97 1680 160 1690 240C1720 215 1760 205 1800 205C1880 205 1942 270 1942 355C1942 440 1880 505 1800 505Z" fill="url(#cg)" stroke="#6E6E6E" stroke-width="15" stroke-linejoin="round"/>
<path d="M1080 532V745Q1080 800 1135 800H1950" fill="none" stroke="#3A3A3A" stroke-width="15" stroke-linecap="round"/>
<line x1="1130" y1="530" x2="1130" y2="772" stroke="#1040FF" stroke-width="9"/>
<line x1="1180" y1="530" x2="1180" y2="772" stroke="#1040FF" stroke-width="9"/>
<line x1="1232" y1="530" x2="1232" y2="772" stroke="#1040FF" stroke-width="9"/>
<line x1="1283" y1="530" x2="1283" y2="772" stroke="#1040FF" stroke-width="9"/>
<line x1="1335" y1="530" x2="1335" y2="690" stroke="#1040FF" stroke-width="9"/>
<line x1="1385" y1="530" x2="1385" y2="600" stroke="#1040FF" stroke-width="9"/>
<path d="M1508 535V625M1469 557L1547 603M1469 603L1547 557M1463 580H1553" stroke="#8C8C8C" stroke-width="9" fill="none" stroke-linecap="round"/>
<path d="M1645 528A70 70 0 0 0 1785 528" fill="none" stroke="#FFC20E" stroke-width="14"/>
<path d="M1791 541L1807 544M1780 570L1793 579M1758 592L1767 605M1729 604L1732 620M1698 604L1695 619M1670 591L1661 605M1648 569L1635 577M1637 540L1622 542" stroke="#FFC20E" stroke-width="12" fill="none" stroke-linecap="butt"/>
<polygon points="1310,792 1425,600 1510,745 1560,665 1640,792" fill="url(#mg)" stroke="#0B7A0B" stroke-width="11" stroke-linejoin="miter"/>
<path d="M1781 790V690M1752 712V745H1781M1811 720V765H1781" fill="none" stroke="#3DB23D" stroke-width="17" stroke-linecap="round" stroke-linejoin="round"/>
</g>
<text x="373.4" y="2456.4" font-size="47" font-weight="bold" fill="#07076B" stroke="#07076B" stroke-width="2.2" stroke-linejoin="round" textLength="109" lengthAdjust="spacingAndGlyphs">CSAP</text>
<text x="347.1" y="2534.3" font-size="11.6" font-weight="bold" fill="#0A0A5E" stroke="#0A0A5E" stroke-width="0.5" textLength="177.4" lengthAdjust="spacingAndGlyphs">http://cals.arizona.edu/climate</text>
<g id="ua">
<polygon points="561.5,2419.8 614.5,2419.8 614.5,2441.5 610.3,2441.5 624.6,2480.5 633.8,2480.5 633.8,2502.6 593.6,2502.6 593.6,2488 600.2,2488 600.2,2495.4 626.1,2495.4 626.1,2487.4 620.1,2487.4 599.9,2434.7 607.3,2434.7 607.3,2427.3 569.2,2427.3 569.2,2434.7 576.4,2434.7 556.1,2487.4 550.2,2487.4 550.2,2495.4 576.1,2495.4 576.1,2488 582.9,2488 582.9,2502.6 542.7,2502.6 542.7,2480.5 551.7,2480.5 566,2441.5 561.5,2441.5" fill="#0C234B"/>
<path d="M588.3 2427.6 L609.7 2482.3 L611.8 2485.9 L614.8 2487.7 L601.7 2487.7 L602.9 2485.9 L598.1 2472.8 L578.8 2472.8 L573.7 2485.9 L574.6 2487.7 L561.2 2487.7 L564.2 2485.9 L566.5 2482.3ZM588.3 2448.1 L595.4 2466.8 L580.8 2466.8Z" fill="#BF1E2E" fill-rule="evenodd"/>
<circle cx="643" cy="2499" r="3.6" fill="none" stroke="#0C234B" stroke-width="0.7"/>
<text x="643" y="2500.8" font-size="5" text-anchor="middle" fill="#0C234B">R</text>
<line x1="660.6" y1="2416.2" x2="660.6" y2="2506" stroke="#0C234B" stroke-width="1.6"/>
<text x="683" y="2446.3" font-size="18" fill="#0C234B" stroke="#0C234B" stroke-width="0.35" textLength="258.3" lengthAdjust="spacingAndGlyphs">THE UNIVERSITY OF ARIZONA</text>
<text x="682.5" y="2488.9" font-size="38.5" fill="#0C234B" textLength="427.2" lengthAdjust="spacingAndGlyphs">Cooperative Extension</text>
</g>
</g>
</svg></body></html>
